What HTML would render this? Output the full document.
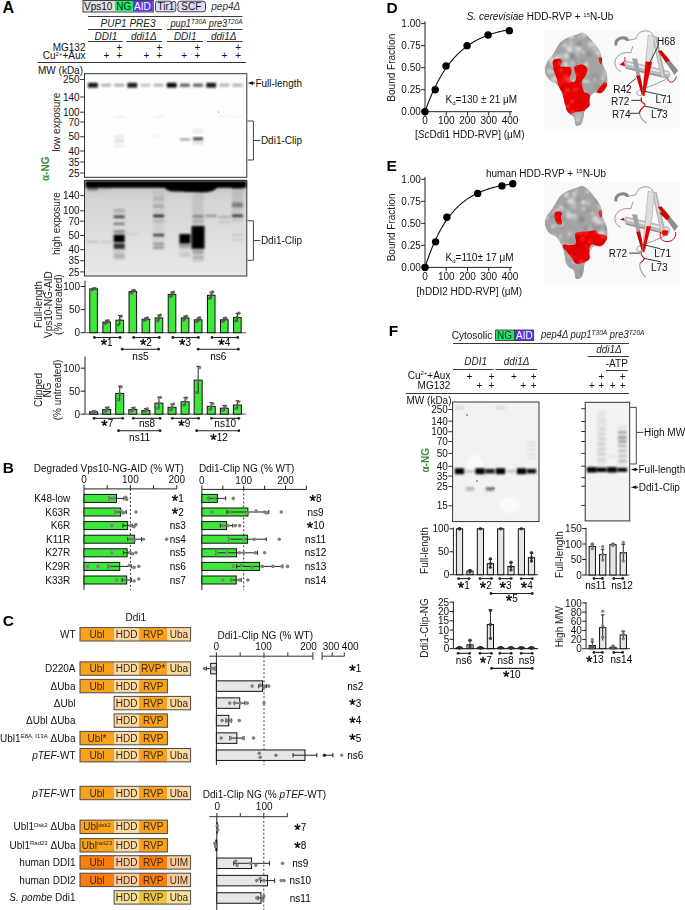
<!DOCTYPE html>
<html><head><meta charset="utf-8"><style>
html,body{margin:0;padding:0;background:#fff;}
svg{display:block;}
text{font-family:"Liberation Sans", sans-serif;}
</style></head><body>
<svg width="685" height="910" viewBox="0 0 685 910" font-family='"Liberation Sans", sans-serif' font-size="10">
<defs>
<filter id="b1" x="-20%" y="-50%" width="140%" height="200%"><feGaussianBlur stdDeviation="0.55"/></filter>
<filter id="b3" x="-20%" y="-50%" width="140%" height="200%"><feGaussianBlur stdDeviation="0.8"/></filter>
<filter id="b2" x="-20%" y="-50%" width="140%" height="200%"><feGaussianBlur stdDeviation="1.2"/></filter>
<linearGradient id="gHigh" x1="0" y1="0" x2="0" y2="1">
<stop offset="0" stop-color="#c2c2c2"/><stop offset="0.2" stop-color="#d4d4d4"/><stop offset="0.6" stop-color="#dedede"/><stop offset="1" stop-color="#e8e8e8"/></linearGradient>
</defs>
<text x="2.5" y="12.6" font-size="16" font-weight="bold">A</text>
<rect x="83" y="0.5" width="70.3" height="11.5" fill="#e2e2e2" stroke="#444" stroke-width="1"/>
<rect x="115" y="1" width="18" height="10.5" fill="#22e86c"/>
<rect x="133" y="1" width="19.8" height="10.5" fill="#5a38e8"/>
<text x="84" y="9.6" fill="#111">Vps10</text>
<text x="116.2" y="9.6" fill="#0b2a12">NG</text>
<text x="134" y="9.6" fill="#fff">AID</text>
<path d="M157.5,1.2 H170 q1.5,0 1.8,1.5 q0.6,-1.3 2.2,-1.3 q1.8,0 1.8,2 V9.8 q0,2 -2,2 H157.5 q-2,0 -2,-2 V3.2 q0,-2 2,-2 Z" fill="#dcdcf7" stroke="#333" stroke-width="0.9"/>
<text x="157.5" y="10" fill="#111">Tir1</text>
<path d="M180.5,1.2 H203 q2.5,0 2.5,2.5 V9.3 q0,2.5 -2.5,2.5 H180.5 q-2.8,0 -2.8,-2.5 q0,-1.3 0.9,-2 q-0.9,-0.7 -0.9,-2 V3.7 q0,-2.5 2.8,-2.5 Z" fill="#dcdcf7" stroke="#333" stroke-width="0.9"/>
<text x="181.3" y="10" fill="#111">SCF</text>
<text x="211.3" y="9.6" fill="#333" font-style="italic">pep4&#916;</text>
<line x1="88" y1="16.5" x2="242.5" y2="16.5" stroke="#3a3a3a" stroke-width="1"/>
<line x1="88" y1="29.5" x2="162" y2="29.5" stroke="#3a3a3a" stroke-width="1"/>
<line x1="167" y1="29.5" x2="242.5" y2="29.5" stroke="#3a3a3a" stroke-width="1"/>
<line x1="88" y1="41.5" x2="122.7" y2="41.5" stroke="#3a3a3a" stroke-width="1"/>
<line x1="126.4" y1="41.5" x2="162" y2="41.5" stroke="#3a3a3a" stroke-width="1"/>
<line x1="167" y1="41.5" x2="203" y2="41.5" stroke="#3a3a3a" stroke-width="1"/>
<line x1="207" y1="41.5" x2="242.5" y2="41.5" stroke="#3a3a3a" stroke-width="1"/>
<line x1="37.6" y1="62.5" x2="246" y2="62.5" stroke="#333" stroke-width="1"/>
<text x="128" y="27.3" text-anchor="middle" fill="#222" font-style="italic">PUP1 PRE3</text>
<text x="170.5" y="27.3" font-style="italic" fill="#222" textLength="72" lengthAdjust="spacingAndGlyphs">pup1<tspan font-size="7" dy="-3.3">T30A</tspan><tspan dy="3.3"> pre3</tspan><tspan font-size="7" dy="-3.3">T20A</tspan></text>
<text x="106" y="39.6" text-anchor="middle" fill="#222" font-style="italic">DDI1</text>
<text x="143.8" y="39.6" text-anchor="middle" fill="#222" font-style="italic">ddi1&#916;</text>
<text x="185.3" y="39.6" text-anchor="middle" fill="#222" font-style="italic">DDI1</text>
<text x="223.7" y="39.6" text-anchor="middle" fill="#222" font-style="italic">ddi1&#916;</text>
<text x="85.5" y="51" text-anchor="end" fill="#111">MG132</text>
<text x="85.5" y="59.2" text-anchor="end" fill="#111">Cu<tspan font-size="6" dy="-3.6">2+</tspan><tspan dy="3.6">+Aux</tspan></text>
<text x="119.5" y="50.5" text-anchor="middle" fill="#111">+</text>
<text x="159.5" y="50.5" text-anchor="middle" fill="#111">+</text>
<text x="197.5" y="50.5" text-anchor="middle" fill="#111">+</text>
<text x="238.1" y="50.5" text-anchor="middle" fill="#111">+</text>
<text x="106.5" y="59.2" text-anchor="middle" fill="#111">+</text>
<text x="119.5" y="59.2" text-anchor="middle" fill="#111">+</text>
<text x="146.3" y="59.2" text-anchor="middle" fill="#111">+</text>
<text x="159.5" y="59.2" text-anchor="middle" fill="#111">+</text>
<text x="184.2" y="59.2" text-anchor="middle" fill="#111">+</text>
<text x="197.5" y="59.2" text-anchor="middle" fill="#111">+</text>
<text x="224.5" y="59.2" text-anchor="middle" fill="#111">+</text>
<text x="238.1" y="59.2" text-anchor="middle" fill="#111">+</text>
<text x="38" y="74.3" fill="#111">MW (kDa)</text>
<rect x="84.5" y="73.7" width="162.3" height="103.6" fill="#fdfdfd" stroke="#333" stroke-width="1"/>
<rect x="88" y="82.8" width="9.8" height="4.8" fill="#000" opacity="0.92" filter="url(#b3)"/>
<rect x="101.14" y="83.8" width="9.8" height="2.8" fill="#000" opacity="0.3" filter="url(#b3)"/>
<rect x="114.28" y="83.8" width="9.8" height="2.8" fill="#000" opacity="0.33" filter="url(#b3)"/>
<rect x="127.42" y="82.8" width="9.8" height="4.8" fill="#000" opacity="0.9" filter="url(#b3)"/>
<rect x="140.56" y="83.8" width="9.8" height="2.8" fill="#000" opacity="0.25" filter="url(#b3)"/>
<rect x="153.7" y="83.8" width="9.8" height="2.8" fill="#000" opacity="0.3" filter="url(#b3)"/>
<rect x="166.84" y="82.8" width="9.8" height="4.8" fill="#000" opacity="0.98" filter="url(#b3)"/>
<rect x="179.98" y="83.5" width="9.8" height="3.4" fill="#000" opacity="0.6" filter="url(#b3)"/>
<rect x="193.12" y="83.5" width="9.8" height="3.4" fill="#000" opacity="0.6" filter="url(#b3)"/>
<rect x="206.26" y="82.8" width="9.8" height="4.8" fill="#000" opacity="0.9" filter="url(#b3)"/>
<rect x="219.4" y="83.7" width="9.8" height="3" fill="#000" opacity="0.3" filter="url(#b3)"/>
<rect x="232.54" y="83.7" width="9.8" height="3" fill="#000" opacity="0.3" filter="url(#b3)"/>
<rect x="114.18" y="116.35" width="10" height="1.5" fill="#000" opacity="0.07" filter="url(#b3)"/>
<rect x="114.18" y="135.25" width="10" height="2.5" fill="#000" opacity="0.09" filter="url(#b3)"/>
<rect x="114.18" y="139" width="10" height="1.6" fill="#000" opacity="0.14" filter="url(#b3)"/>
<rect x="114.18" y="141.5" width="10" height="1.4" fill="#000" opacity="0.16" filter="url(#b3)"/>
<rect x="114.18" y="144.95" width="10" height="1.5" fill="#000" opacity="0.12" filter="url(#b3)"/>
<rect x="179.88" y="138.4" width="10" height="2.2" fill="#000" opacity="0.35" filter="url(#b3)"/>
<rect x="193.02" y="128.5" width="10" height="5" fill="#000" opacity="0.06" filter="url(#b3)"/>
<rect x="193.02" y="137.4" width="10" height="2.8" fill="#000" opacity="0.75" filter="url(#b3)"/>
<rect x="193.02" y="141.5" width="10" height="3" fill="#000" opacity="0.12" filter="url(#b3)"/>
<rect x="153.6" y="116.25" width="10" height="1.5" fill="#000" opacity="0.08" filter="url(#b3)"/>
<rect x="153.6" y="135.05" width="10" height="1.5" fill="#000" opacity="0.06" filter="url(#b3)"/>
<rect x="232.44" y="115.75" width="10" height="1.5" fill="#000" opacity="0.07" filter="url(#b3)"/>
<rect x="219.3" y="115.75" width="10" height="1.5" fill="#000" opacity="0.04" filter="url(#b3)"/>
<circle cx="218.5" cy="112" r="0.6" fill="#666"/>
<text x="79.6" y="83.1" text-anchor="end" fill="#111">250</text>
<line x1="80.2" y1="79.5" x2="84.5" y2="79.5" stroke="#333" stroke-width="1"/>
<text x="79.6" y="100.6" text-anchor="end" fill="#111">140</text>
<line x1="80.2" y1="97" x2="84.5" y2="97" stroke="#333" stroke-width="1"/>
<text x="79.6" y="115.8" text-anchor="end" fill="#111">100</text>
<line x1="80.2" y1="112.2" x2="84.5" y2="112.2" stroke="#333" stroke-width="1"/>
<text x="79.6" y="125.6" text-anchor="end" fill="#111">70</text>
<line x1="80.2" y1="122" x2="84.5" y2="122" stroke="#333" stroke-width="1"/>
<text x="79.6" y="140.4" text-anchor="end" fill="#111">50</text>
<line x1="80.2" y1="136.8" x2="84.5" y2="136.8" stroke="#333" stroke-width="1"/>
<text x="79.6" y="154.6" text-anchor="end" fill="#111">40</text>
<line x1="80.2" y1="151" x2="84.5" y2="151" stroke="#333" stroke-width="1"/>
<text x="79.6" y="165.6" text-anchor="end" fill="#111">35</text>
<line x1="80.2" y1="162" x2="84.5" y2="162" stroke="#333" stroke-width="1"/>
<text x="79.6" y="176.6" text-anchor="end" fill="#111">25</text>
<line x1="80.2" y1="173" x2="84.5" y2="173" stroke="#333" stroke-width="1"/>
<text x="60" y="122.2" text-anchor="middle" fill="#222" transform="rotate(-90 60 122.2)">low exposure</text>
<text x="49" y="168.8" text-anchor="middle" fill="#3a8c3a" font-weight="bold" transform="rotate(-90 49 168.8)">&#945;-NG</text>
<path d="M247.6,83.1 L253.2,81.3 L253.2,84.9 Z" fill="#111"/>
<line x1="252" y1="83.1" x2="255" y2="83.1" stroke="#111" stroke-width="1"/>
<text x="255.4" y="86.7" fill="#111">Full-length</text>
<path d="M247.5,121 H253.4 V160 H247.5" fill="none" stroke="#444" stroke-width="1"/>
<line x1="253.4" y1="140.5" x2="260.4" y2="140.5" stroke="#444" stroke-width="1"/>
<text x="260.9" y="144" fill="#111">Ddi1-Clip</text>
<rect x="84.5" y="180.4" width="162.3" height="95.6" fill="url(#gHigh)" stroke="#333" stroke-width="1"/>
<g filter="url(#b3)">
<rect x="85.5" y="181" width="160.8" height="6.8" fill="#000"/>
<path d="M163,186 C166,190 170,192 176,191.5 C182,191 186,192.5 192,192 C198,191.5 202,193 208,192 C213,191 216,190 218,186 Z" fill="#000"/>
<rect x="231.94" y="186" width="11" height="2.5" fill="#000"/>
<rect x="87.9" y="187" width="10" height="3" fill="#000" opacity="0.25"/>
<rect x="113.68" y="250" width="11" height="10" fill="#000" opacity="0.1"/>
<rect x="153.1" y="190" width="11" height="60" fill="#000" opacity="0.05"/>
<rect x="192.52" y="190" width="11" height="36" fill="#000" opacity="0.08"/>
<rect x="192.52" y="249" width="11" height="13" fill="#000" opacity="0.1"/>
<rect x="231.94" y="190" width="11" height="32" fill="#000" opacity="0.08"/>
<rect x="179.38" y="244" width="11" height="14" fill="#000" opacity="0.05"/>
<rect x="113.68" y="208.7" width="11" height="4" fill="#000" opacity="0.18"/>
<rect x="113.68" y="215.5" width="11" height="2.6" fill="#000" opacity="0.7"/>
<rect x="113.68" y="222.6" width="11" height="2.4" fill="#000" opacity="0.45"/>
<rect x="113.68" y="230.4" width="11" height="1.6" fill="#000" opacity="0.5"/>
<rect x="113.68" y="232.4" width="11" height="2" fill="#000" opacity="0.25"/>
<rect x="113.68" y="234.9" width="11" height="7.4" fill="#000" opacity="1"/>
<rect x="113.68" y="243.8" width="11" height="2" fill="#000" opacity="1"/>
<rect x="113.68" y="246.2" width="11" height="2.6" fill="#000" opacity="0.85"/>
<rect x="113.68" y="254" width="11" height="4" fill="#000" opacity="0.13"/>
<rect x="153.1" y="196.8" width="11" height="4" fill="#000" opacity="0.1"/>
<rect x="153.1" y="204.7" width="11" height="3" fill="#000" opacity="0.18"/>
<rect x="153.1" y="214.7" width="11" height="2.4" fill="#000" opacity="0.85"/>
<rect x="153.1" y="219.5" width="11" height="3" fill="#000" opacity="0.12"/>
<rect x="153.1" y="233.85" width="11" height="2.5" fill="#000" opacity="0.7"/>
<rect x="153.1" y="242.8" width="11" height="2" fill="#000" opacity="0.35"/>
<rect x="153.1" y="246.25" width="11" height="2.5" fill="#000" opacity="0.3"/>
<rect x="192.52" y="215.25" width="11" height="2.5" fill="#000" opacity="0.35"/>
<rect x="192.52" y="220" width="11" height="3" fill="#000" opacity="0.15"/>
<rect x="191.52" y="226" width="13" height="22.8" fill="#000" opacity="1"/>
<rect x="192.52" y="250.5" width="11" height="3" fill="#000" opacity="0.25"/>
<rect x="192.52" y="256.5" width="11" height="2" fill="#000" opacity="0.2"/>
<rect x="179.38" y="234" width="11" height="9.6" fill="#000" opacity="1"/>
<rect x="179.38" y="244.5" width="11" height="3" fill="#000" opacity="0.3"/>
<rect x="179.38" y="253.5" width="11" height="3" fill="#000" opacity="0.08"/>
<rect x="231.94" y="202.5" width="11" height="5" fill="#000" opacity="0.35"/>
<rect x="231.94" y="214.7" width="11" height="2.2" fill="#000" opacity="0.8"/>
<rect x="205.66" y="215" width="11" height="2" fill="#000" opacity="0.2"/>
<rect x="218.8" y="216" width="11" height="2" fill="#000" opacity="0.2"/>
<rect x="231.94" y="234" width="11" height="2" fill="#000" opacity="0.1"/>
<rect x="231.94" y="239.25" width="11" height="1.5" fill="#000" opacity="0.1"/>
<rect x="87.4" y="241.25" width="11" height="1.1" fill="#000" opacity="0.25"/>
<rect x="100.54" y="241.25" width="11" height="1.1" fill="#000" opacity="0.2"/>
<rect x="126.82" y="233.35" width="11" height="1.3" fill="#000" opacity="0.1"/>
<rect x="205.66" y="214.25" width="11" height="2.5" fill="#000" opacity="0.15"/>
<rect x="218.8" y="221" width="11" height="2" fill="#000" opacity="0.1"/>
<rect x="87.4" y="187" width="11" height="4" fill="#000" opacity="0.22"/>
<rect x="100.54" y="187.5" width="11" height="3" fill="#000" opacity="0.12"/>
</g>
<text x="79.6" y="199.2" text-anchor="end" fill="#111">140</text>
<line x1="80.2" y1="195.6" x2="84.5" y2="195.6" stroke="#333" stroke-width="1"/>
<text x="79.6" y="214.4" text-anchor="end" fill="#111">100</text>
<line x1="80.2" y1="210.8" x2="84.5" y2="210.8" stroke="#333" stroke-width="1"/>
<text x="79.6" y="224.8" text-anchor="end" fill="#111">70</text>
<line x1="80.2" y1="221.2" x2="84.5" y2="221.2" stroke="#333" stroke-width="1"/>
<text x="79.6" y="239.1" text-anchor="end" fill="#111">50</text>
<line x1="80.2" y1="235.5" x2="84.5" y2="235.5" stroke="#333" stroke-width="1"/>
<text x="79.6" y="253.3" text-anchor="end" fill="#111">40</text>
<line x1="80.2" y1="249.7" x2="84.5" y2="249.7" stroke="#333" stroke-width="1"/>
<text x="79.6" y="264.3" text-anchor="end" fill="#111">35</text>
<line x1="80.2" y1="260.7" x2="84.5" y2="260.7" stroke="#333" stroke-width="1"/>
<text x="79.6" y="275.5" text-anchor="end" fill="#111">25</text>
<line x1="80.2" y1="271.9" x2="84.5" y2="271.9" stroke="#333" stroke-width="1"/>
<text x="60" y="223.6" text-anchor="middle" fill="#222" transform="rotate(-90 60 223.6)">high exposure</text>
<path d="M247.5,220.8 H253.4 V260.3 H247.5" fill="none" stroke="#444" stroke-width="1"/>
<line x1="253.4" y1="240.55" x2="260.4" y2="240.55" stroke="#444" stroke-width="1"/>
<text x="260.9" y="243.7" fill="#111">Ddi1-Clip</text>
<line x1="85" y1="280.7" x2="85" y2="332.7" stroke="#222" stroke-width="1"/>
<line x1="85" y1="332.7" x2="246" y2="332.7" stroke="#777" stroke-width="1.2"/>
<line x1="80.6" y1="332.7" x2="85" y2="332.7" stroke="#222" stroke-width="1"/>
<text x="80" y="336.3" text-anchor="end" fill="#111">0</text>
<line x1="80.6" y1="309.6" x2="85" y2="309.6" stroke="#222" stroke-width="1"/>
<text x="80" y="313.2" text-anchor="end" fill="#111">50</text>
<line x1="80.6" y1="286.5" x2="85" y2="286.5" stroke="#222" stroke-width="1"/>
<text x="80" y="290.1" text-anchor="end" fill="#111">100</text>
<rect x="89.8" y="288.9" width="7.6" height="43.8" fill="#3ee83a" stroke="#111" stroke-width="1"/>
<rect x="102.87" y="322.07" width="7.6" height="10.63" fill="#3ee83a" stroke="#111" stroke-width="1"/>
<rect x="115.94" y="320.23" width="7.6" height="12.47" fill="#3ee83a" stroke="#111" stroke-width="1"/>
<rect x="129.01" y="291.58" width="7.6" height="41.12" fill="#3ee83a" stroke="#111" stroke-width="1"/>
<rect x="142.08" y="319.3" width="7.6" height="13.4" fill="#3ee83a" stroke="#111" stroke-width="1"/>
<rect x="155.15" y="317.92" width="7.6" height="14.78" fill="#3ee83a" stroke="#111" stroke-width="1"/>
<rect x="168.22" y="294.35" width="7.6" height="38.35" fill="#3ee83a" stroke="#111" stroke-width="1"/>
<rect x="181.29" y="317.92" width="7.6" height="14.78" fill="#3ee83a" stroke="#111" stroke-width="1"/>
<rect x="194.36" y="319.76" width="7.6" height="12.94" fill="#3ee83a" stroke="#111" stroke-width="1"/>
<rect x="207.43" y="295.28" width="7.6" height="37.42" fill="#3ee83a" stroke="#111" stroke-width="1"/>
<rect x="220.5" y="319.76" width="7.6" height="12.94" fill="#3ee83a" stroke="#111" stroke-width="1"/>
<rect x="233.57" y="317.45" width="7.6" height="15.25" fill="#3ee83a" stroke="#111" stroke-width="1"/>
<line x1="93.6" y1="288.21" x2="93.6" y2="289.6" stroke="#222" stroke-width="1"/>
<line x1="91.8" y1="288.21" x2="95.4" y2="288.21" stroke="#222" stroke-width="1"/>
<circle cx="92.1" cy="289.77" r="1.7" fill="#555" opacity="0.85"/>
<circle cx="93.6" cy="288.86" r="1.7" fill="#555" opacity="0.85"/>
<circle cx="95.1" cy="288.4" r="1.7" fill="#555" opacity="0.85"/>
<line x1="106.67" y1="320.23" x2="106.67" y2="323.92" stroke="#222" stroke-width="1"/>
<line x1="104.87" y1="320.23" x2="108.47" y2="320.23" stroke="#222" stroke-width="1"/>
<circle cx="105.17" cy="323.64" r="1.7" fill="#555" opacity="0.85"/>
<circle cx="106.67" cy="321.96" r="1.7" fill="#555" opacity="0.85"/>
<circle cx="108.17" cy="320.81" r="1.7" fill="#555" opacity="0.85"/>
<line x1="119.74" y1="315.61" x2="119.74" y2="324.85" stroke="#222" stroke-width="1"/>
<line x1="117.94" y1="315.61" x2="121.54" y2="315.61" stroke="#222" stroke-width="1"/>
<circle cx="118.24" cy="324.83" r="1.7" fill="#555" opacity="0.85"/>
<circle cx="119.74" cy="319.91" r="1.7" fill="#555" opacity="0.85"/>
<circle cx="121.24" cy="316.29" r="1.7" fill="#555" opacity="0.85"/>
<line x1="132.81" y1="290.2" x2="132.81" y2="292.97" stroke="#222" stroke-width="1"/>
<line x1="131.01" y1="290.2" x2="134.61" y2="290.2" stroke="#222" stroke-width="1"/>
<circle cx="131.31" cy="293.07" r="1.7" fill="#555" opacity="0.85"/>
<circle cx="132.81" cy="291.12" r="1.7" fill="#555" opacity="0.85"/>
<circle cx="134.31" cy="290.36" r="1.7" fill="#555" opacity="0.85"/>
<line x1="145.88" y1="317.92" x2="145.88" y2="320.69" stroke="#222" stroke-width="1"/>
<line x1="144.08" y1="317.92" x2="147.68" y2="317.92" stroke="#222" stroke-width="1"/>
<circle cx="144.38" cy="320.24" r="1.7" fill="#555" opacity="0.85"/>
<circle cx="145.88" cy="319.32" r="1.7" fill="#555" opacity="0.85"/>
<circle cx="147.38" cy="317.93" r="1.7" fill="#555" opacity="0.85"/>
<line x1="158.95" y1="315.14" x2="158.95" y2="320.69" stroke="#222" stroke-width="1"/>
<line x1="157.15" y1="315.14" x2="160.75" y2="315.14" stroke="#222" stroke-width="1"/>
<circle cx="157.45" cy="320.73" r="1.7" fill="#555" opacity="0.85"/>
<circle cx="158.95" cy="317.79" r="1.7" fill="#555" opacity="0.85"/>
<circle cx="160.45" cy="315.08" r="1.7" fill="#555" opacity="0.85"/>
<line x1="172.02" y1="292.04" x2="172.02" y2="296.66" stroke="#222" stroke-width="1"/>
<line x1="170.22" y1="292.04" x2="173.82" y2="292.04" stroke="#222" stroke-width="1"/>
<circle cx="170.52" cy="296.41" r="1.7" fill="#555" opacity="0.85"/>
<circle cx="172.02" cy="294.13" r="1.7" fill="#555" opacity="0.85"/>
<circle cx="173.52" cy="292.12" r="1.7" fill="#555" opacity="0.85"/>
<line x1="185.09" y1="316.07" x2="185.09" y2="319.76" stroke="#222" stroke-width="1"/>
<line x1="183.29" y1="316.07" x2="186.89" y2="316.07" stroke="#222" stroke-width="1"/>
<circle cx="183.59" cy="319.98" r="1.7" fill="#555" opacity="0.85"/>
<circle cx="185.09" cy="317.68" r="1.7" fill="#555" opacity="0.85"/>
<circle cx="186.59" cy="316.17" r="1.7" fill="#555" opacity="0.85"/>
<line x1="198.16" y1="317.92" x2="198.16" y2="321.61" stroke="#222" stroke-width="1"/>
<line x1="196.36" y1="317.92" x2="199.96" y2="317.92" stroke="#222" stroke-width="1"/>
<circle cx="196.66" cy="321.61" r="1.7" fill="#555" opacity="0.85"/>
<circle cx="198.16" cy="320.2" r="1.7" fill="#555" opacity="0.85"/>
<circle cx="199.66" cy="317.76" r="1.7" fill="#555" opacity="0.85"/>
<line x1="211.23" y1="292.04" x2="211.23" y2="298.51" stroke="#222" stroke-width="1"/>
<line x1="209.43" y1="292.04" x2="213.03" y2="292.04" stroke="#222" stroke-width="1"/>
<circle cx="209.73" cy="298.21" r="1.7" fill="#555" opacity="0.85"/>
<circle cx="211.23" cy="295.08" r="1.7" fill="#555" opacity="0.85"/>
<circle cx="212.73" cy="292.02" r="1.7" fill="#555" opacity="0.85"/>
<line x1="224.3" y1="317.92" x2="224.3" y2="321.61" stroke="#222" stroke-width="1"/>
<line x1="222.5" y1="317.92" x2="226.1" y2="317.92" stroke="#222" stroke-width="1"/>
<circle cx="222.8" cy="321.23" r="1.7" fill="#555" opacity="0.85"/>
<circle cx="224.3" cy="319.37" r="1.7" fill="#555" opacity="0.85"/>
<circle cx="225.8" cy="318.2" r="1.7" fill="#555" opacity="0.85"/>
<line x1="237.37" y1="313.3" x2="237.37" y2="321.61" stroke="#222" stroke-width="1"/>
<line x1="235.57" y1="313.3" x2="239.17" y2="313.3" stroke="#222" stroke-width="1"/>
<circle cx="235.87" cy="320.92" r="1.7" fill="#555" opacity="0.85"/>
<circle cx="237.37" cy="317.51" r="1.7" fill="#555" opacity="0.85"/>
<circle cx="238.87" cy="313.31" r="1.7" fill="#555" opacity="0.85"/>
<text x="42" y="304.6" text-anchor="middle" fill="#222" transform="rotate(-90 42 304.6)">Full-length</text>
<text x="51.8" y="304.6" text-anchor="middle" fill="#222" transform="rotate(-90 51.8 304.6)">Vps10-NG-AID</text>
<text x="62.4" y="304.6" text-anchor="middle" fill="#222" transform="rotate(-90 62.4 304.6)">(% untreated)</text>
<line x1="94.4" y1="337.5" x2="120.04" y2="337.5" stroke="#222" stroke-width="1.1"/>
<circle cx="94.4" cy="337.5" r="1.4" fill="#222"/>
<circle cx="120.04" cy="337.5" r="1.4" fill="#222"/>
<text x="106.67" y="346.18" text-anchor="middle"><tspan font-size="16.5" dy="4.7" stroke="#000" stroke-width="0.35">*</tspan><tspan dy="-4.7">1</tspan></text>
<line x1="133.61" y1="337.5" x2="159.25" y2="337.5" stroke="#222" stroke-width="1.1"/>
<circle cx="133.61" cy="337.5" r="1.4" fill="#222"/>
<circle cx="159.25" cy="337.5" r="1.4" fill="#222"/>
<text x="145.88" y="346.18" text-anchor="middle"><tspan font-size="16.5" dy="4.7" stroke="#000" stroke-width="0.35">*</tspan><tspan dy="-4.7">2</tspan></text>
<line x1="172.82" y1="337.5" x2="198.46" y2="337.5" stroke="#222" stroke-width="1.1"/>
<circle cx="172.82" cy="337.5" r="1.4" fill="#222"/>
<circle cx="198.46" cy="337.5" r="1.4" fill="#222"/>
<text x="185.09" y="346.18" text-anchor="middle"><tspan font-size="16.5" dy="4.7" stroke="#000" stroke-width="0.35">*</tspan><tspan dy="-4.7">3</tspan></text>
<line x1="212.03" y1="337.5" x2="237.67" y2="337.5" stroke="#222" stroke-width="1.1"/>
<circle cx="212.03" cy="337.5" r="1.4" fill="#222"/>
<circle cx="237.67" cy="337.5" r="1.4" fill="#222"/>
<text x="224.3" y="346.18" text-anchor="middle"><tspan font-size="16.5" dy="4.7" stroke="#000" stroke-width="0.35">*</tspan><tspan dy="-4.7">4</tspan></text>
<line x1="122.2" y1="349.2" x2="158.6" y2="349.2" stroke="#222" stroke-width="1.1"/>
<circle cx="122.2" cy="349.2" r="1.4" fill="#222"/>
<circle cx="158.6" cy="349.2" r="1.4" fill="#222"/>
<text x="140.4" y="359.98" text-anchor="middle">ns5</text>
<line x1="198.2" y1="349.2" x2="238.3" y2="349.2" stroke="#222" stroke-width="1.1"/>
<circle cx="198.2" cy="349.2" r="1.4" fill="#222"/>
<circle cx="238.3" cy="349.2" r="1.4" fill="#222"/>
<text x="218.2" y="359.98" text-anchor="middle">ns6</text>
<line x1="85" y1="356.4" x2="85" y2="414.2" stroke="#222" stroke-width="1"/>
<line x1="85" y1="414.2" x2="246" y2="414.2" stroke="#777" stroke-width="1.2"/>
<line x1="80.6" y1="414.2" x2="85" y2="414.2" stroke="#222" stroke-width="1"/>
<text x="80" y="417.8" text-anchor="end" fill="#111">0</text>
<line x1="80.6" y1="391.2" x2="85" y2="391.2" stroke="#222" stroke-width="1"/>
<text x="80" y="394.8" text-anchor="end" fill="#111">50</text>
<line x1="80.6" y1="368.2" x2="85" y2="368.2" stroke="#222" stroke-width="1"/>
<text x="80" y="371.8" text-anchor="end" fill="#111">100</text>
<rect x="89.6" y="411.9" width="8" height="2.3" fill="#3ee83a" stroke="#111" stroke-width="1"/>
<rect x="102.67" y="409.6" width="8" height="4.6" fill="#3ee83a" stroke="#111" stroke-width="1"/>
<rect x="115.74" y="393.5" width="8" height="20.7" fill="#3ee83a" stroke="#111" stroke-width="1"/>
<rect x="128.81" y="409.6" width="8" height="4.6" fill="#3ee83a" stroke="#111" stroke-width="1"/>
<rect x="141.88" y="410.52" width="8" height="3.68" fill="#3ee83a" stroke="#111" stroke-width="1"/>
<rect x="154.95" y="403.16" width="8" height="11.04" fill="#3ee83a" stroke="#111" stroke-width="1"/>
<rect x="168.02" y="407.3" width="8" height="6.9" fill="#3ee83a" stroke="#111" stroke-width="1"/>
<rect x="181.09" y="401.78" width="8" height="12.42" fill="#3ee83a" stroke="#111" stroke-width="1"/>
<rect x="194.16" y="380.16" width="8" height="34.04" fill="#3ee83a" stroke="#111" stroke-width="1"/>
<rect x="207.23" y="406.38" width="8" height="7.82" fill="#3ee83a" stroke="#111" stroke-width="1"/>
<rect x="220.3" y="408.22" width="8" height="5.98" fill="#3ee83a" stroke="#111" stroke-width="1"/>
<rect x="233.37" y="405" width="8" height="9.2" fill="#3ee83a" stroke="#111" stroke-width="1"/>
<line x1="93.6" y1="410.98" x2="93.6" y2="412.82" stroke="#222" stroke-width="1"/>
<line x1="91.8" y1="410.98" x2="95.4" y2="410.98" stroke="#222" stroke-width="1"/>
<circle cx="92.1" cy="412.38" r="1.7" fill="#666" opacity="0.85"/>
<circle cx="93.6" cy="412.27" r="1.7" fill="#666" opacity="0.85"/>
<circle cx="95.1" cy="411.41" r="1.7" fill="#666" opacity="0.85"/>
<line x1="106.67" y1="407.3" x2="106.67" y2="411.9" stroke="#222" stroke-width="1"/>
<line x1="104.87" y1="407.3" x2="108.47" y2="407.3" stroke="#222" stroke-width="1"/>
<circle cx="105.17" cy="411.93" r="1.7" fill="#666" opacity="0.85"/>
<circle cx="106.67" cy="409.17" r="1.7" fill="#666" opacity="0.85"/>
<circle cx="108.17" cy="407.59" r="1.7" fill="#666" opacity="0.85"/>
<line x1="119.74" y1="386.14" x2="119.74" y2="400.86" stroke="#222" stroke-width="1"/>
<line x1="117.94" y1="386.14" x2="121.54" y2="386.14" stroke="#222" stroke-width="1"/>
<circle cx="118.24" cy="400.01" r="1.7" fill="#666" opacity="0.85"/>
<circle cx="119.74" cy="393.68" r="1.7" fill="#666" opacity="0.85"/>
<circle cx="121.24" cy="386.87" r="1.7" fill="#666" opacity="0.85"/>
<line x1="132.81" y1="407.76" x2="132.81" y2="411.44" stroke="#222" stroke-width="1"/>
<line x1="131.01" y1="407.76" x2="134.61" y2="407.76" stroke="#222" stroke-width="1"/>
<circle cx="131.31" cy="411.36" r="1.7" fill="#666" opacity="0.85"/>
<circle cx="132.81" cy="409.74" r="1.7" fill="#666" opacity="0.85"/>
<circle cx="134.31" cy="407.87" r="1.7" fill="#666" opacity="0.85"/>
<line x1="145.88" y1="408.68" x2="145.88" y2="412.36" stroke="#222" stroke-width="1"/>
<line x1="144.08" y1="408.68" x2="147.68" y2="408.68" stroke="#222" stroke-width="1"/>
<circle cx="144.38" cy="412.1" r="1.7" fill="#666" opacity="0.85"/>
<circle cx="145.88" cy="410.15" r="1.7" fill="#666" opacity="0.85"/>
<circle cx="147.38" cy="408.7" r="1.7" fill="#666" opacity="0.85"/>
<line x1="158.95" y1="397.18" x2="158.95" y2="409.14" stroke="#222" stroke-width="1"/>
<line x1="157.15" y1="397.18" x2="160.75" y2="397.18" stroke="#222" stroke-width="1"/>
<circle cx="157.45" cy="408.15" r="1.7" fill="#666" opacity="0.85"/>
<circle cx="158.95" cy="402.83" r="1.7" fill="#666" opacity="0.85"/>
<circle cx="160.45" cy="397.33" r="1.7" fill="#666" opacity="0.85"/>
<line x1="172.02" y1="404.08" x2="172.02" y2="410.52" stroke="#222" stroke-width="1"/>
<line x1="170.22" y1="404.08" x2="173.82" y2="404.08" stroke="#222" stroke-width="1"/>
<circle cx="170.52" cy="410.04" r="1.7" fill="#666" opacity="0.85"/>
<circle cx="172.02" cy="407.61" r="1.7" fill="#666" opacity="0.85"/>
<circle cx="173.52" cy="404.07" r="1.7" fill="#666" opacity="0.85"/>
<line x1="185.09" y1="397.64" x2="185.09" y2="405.92" stroke="#222" stroke-width="1"/>
<line x1="183.29" y1="397.64" x2="186.89" y2="397.64" stroke="#222" stroke-width="1"/>
<circle cx="183.59" cy="405.08" r="1.7" fill="#666" opacity="0.85"/>
<circle cx="185.09" cy="401.41" r="1.7" fill="#666" opacity="0.85"/>
<circle cx="186.59" cy="397.99" r="1.7" fill="#666" opacity="0.85"/>
<line x1="198.16" y1="366.36" x2="198.16" y2="393.96" stroke="#222" stroke-width="1"/>
<line x1="196.36" y1="366.36" x2="199.96" y2="366.36" stroke="#222" stroke-width="1"/>
<circle cx="196.66" cy="392.38" r="1.7" fill="#666" opacity="0.85"/>
<circle cx="198.16" cy="380.43" r="1.7" fill="#666" opacity="0.85"/>
<circle cx="199.66" cy="367.43" r="1.7" fill="#666" opacity="0.85"/>
<line x1="211.23" y1="402.7" x2="211.23" y2="410.06" stroke="#222" stroke-width="1"/>
<line x1="209.43" y1="402.7" x2="213.03" y2="402.7" stroke="#222" stroke-width="1"/>
<circle cx="209.73" cy="409.62" r="1.7" fill="#666" opacity="0.85"/>
<circle cx="211.23" cy="406.58" r="1.7" fill="#666" opacity="0.85"/>
<circle cx="212.73" cy="403.47" r="1.7" fill="#666" opacity="0.85"/>
<line x1="224.3" y1="405.46" x2="224.3" y2="410.98" stroke="#222" stroke-width="1"/>
<line x1="222.5" y1="405.46" x2="226.1" y2="405.46" stroke="#222" stroke-width="1"/>
<circle cx="222.8" cy="410.38" r="1.7" fill="#666" opacity="0.85"/>
<circle cx="224.3" cy="407.77" r="1.7" fill="#666" opacity="0.85"/>
<circle cx="225.8" cy="406.11" r="1.7" fill="#666" opacity="0.85"/>
<line x1="237.37" y1="400.86" x2="237.37" y2="409.14" stroke="#222" stroke-width="1"/>
<line x1="235.57" y1="400.86" x2="239.17" y2="400.86" stroke="#222" stroke-width="1"/>
<circle cx="235.87" cy="408.45" r="1.7" fill="#666" opacity="0.85"/>
<circle cx="237.37" cy="405.08" r="1.7" fill="#666" opacity="0.85"/>
<circle cx="238.87" cy="401.6" r="1.7" fill="#666" opacity="0.85"/>
<text x="41.5" y="390" text-anchor="middle" fill="#222" transform="rotate(-90 41.5 390)">Clipped</text>
<text x="51.3" y="390" text-anchor="middle" fill="#222" transform="rotate(-90 51.3 390)">NG</text>
<text x="61.2" y="390" text-anchor="middle" fill="#222" transform="rotate(-90 61.2 390)">(% untreated)</text>
<line x1="94.1" y1="418.3" x2="122.7" y2="418.3" stroke="#222" stroke-width="1.1"/>
<circle cx="94.1" cy="418.3" r="1.4" fill="#222"/>
<circle cx="122.7" cy="418.3" r="1.4" fill="#222"/>
<text x="107.3" y="427.38" text-anchor="middle"><tspan font-size="16.5" dy="4.7" stroke="#000" stroke-width="0.35">*</tspan><tspan dy="-4.7">7</tspan></text>
<line x1="133.3" y1="418.3" x2="160.1" y2="418.3" stroke="#222" stroke-width="1.1"/>
<circle cx="133.3" cy="418.3" r="1.4" fill="#222"/>
<circle cx="160.1" cy="418.3" r="1.4" fill="#222"/>
<text x="147" y="427.38" text-anchor="middle">ns8</text>
<line x1="172.3" y1="418.3" x2="198.6" y2="418.3" stroke="#222" stroke-width="1.1"/>
<circle cx="172.3" cy="418.3" r="1.4" fill="#222"/>
<circle cx="198.6" cy="418.3" r="1.4" fill="#222"/>
<text x="184.2" y="427.38" text-anchor="middle"><tspan font-size="16.5" dy="4.7" stroke="#000" stroke-width="0.35">*</tspan><tspan dy="-4.7">9</tspan></text>
<line x1="211.5" y1="418.3" x2="238.8" y2="418.3" stroke="#222" stroke-width="1.1"/>
<circle cx="211.5" cy="418.3" r="1.4" fill="#222"/>
<circle cx="238.8" cy="418.3" r="1.4" fill="#222"/>
<text x="225.2" y="427.38" text-anchor="middle">ns10</text>
<line x1="118.5" y1="430.7" x2="160.1" y2="430.7" stroke="#222" stroke-width="1.1"/>
<circle cx="118.5" cy="430.7" r="1.4" fill="#222"/>
<circle cx="160.1" cy="430.7" r="1.4" fill="#222"/>
<text x="139.6" y="440.98" text-anchor="middle">ns11</text>
<line x1="196.6" y1="430.7" x2="238.8" y2="430.7" stroke="#222" stroke-width="1.1"/>
<circle cx="196.6" cy="430.7" r="1.4" fill="#222"/>
<circle cx="238.8" cy="430.7" r="1.4" fill="#222"/>
<text x="219" y="440.98" text-anchor="middle"><tspan font-size="16.5" dy="4.7" stroke="#000" stroke-width="0.35">*</tspan><tspan dy="-4.7">12</tspan></text>
<text x="2.8" y="472.8" font-size="15.5" font-weight="bold">B</text>
<text x="33.8" y="472.3" fill="#111">Degraded Vps10-NG-AID (% WT)</text>
<text x="198.9" y="472.3" fill="#111">Ddi1-Clip NG (% WT)</text>
<text x="70.3" y="502" text-anchor="end" fill="#111">K48-low</text>
<text x="70.3" y="515.6" text-anchor="end" fill="#111">K63R</text>
<text x="70.3" y="529.2" text-anchor="end" fill="#111">K6R</text>
<text x="70.3" y="542.8" text-anchor="end" fill="#111">K11R</text>
<text x="70.3" y="556.4" text-anchor="end" fill="#111">K27R</text>
<text x="70.3" y="570" text-anchor="end" fill="#111">K29R</text>
<text x="70.3" y="583.6" text-anchor="end" fill="#111">K33R</text>
<line x1="84" y1="488.9" x2="176.8" y2="488.9" stroke="#222" stroke-width="1"/>
<line x1="84" y1="485.1" x2="84" y2="488.9" stroke="#222" stroke-width="1"/>
<line x1="107.2" y1="485.1" x2="107.2" y2="488.9" stroke="#222" stroke-width="1"/>
<line x1="130.4" y1="485.1" x2="130.4" y2="488.9" stroke="#222" stroke-width="1"/>
<line x1="153.6" y1="485.1" x2="153.6" y2="488.9" stroke="#222" stroke-width="1"/>
<line x1="176.8" y1="485.1" x2="176.8" y2="488.9" stroke="#222" stroke-width="1"/>
<text x="84" y="483" text-anchor="middle" fill="#111">0</text>
<text x="130.4" y="483" text-anchor="middle" fill="#111">100</text>
<text x="176.8" y="483" text-anchor="middle" fill="#111">200</text>
<line x1="84" y1="488.9" x2="84" y2="590" stroke="#222" stroke-width="1"/>
<line x1="130.4" y1="488.9" x2="130.4" y2="590" stroke="#333" stroke-width="1" stroke-dasharray="2,2"/>
<rect x="84" y="494.4" width="32.48" height="8" fill="#3ee83a" stroke="#111" stroke-width="1"/>
<rect x="84" y="508" width="36.66" height="8" fill="#3ee83a" stroke="#111" stroke-width="1"/>
<rect x="84" y="521.6" width="43.62" height="8" fill="#3ee83a" stroke="#111" stroke-width="1"/>
<rect x="84" y="535.2" width="50.58" height="8" fill="#3ee83a" stroke="#111" stroke-width="1"/>
<rect x="84" y="548.8" width="43.15" height="8" fill="#3ee83a" stroke="#111" stroke-width="1"/>
<rect x="84" y="562.4" width="35.73" height="8" fill="#3ee83a" stroke="#111" stroke-width="1"/>
<rect x="84" y="576" width="42.69" height="8" fill="#3ee83a" stroke="#111" stroke-width="1"/>
<line x1="109.06" y1="498.4" x2="123.9" y2="498.4" stroke="#222" stroke-width="1"/>
<line x1="109.06" y1="496.4" x2="109.06" y2="500.4" stroke="#222" stroke-width="1"/>
<line x1="123.9" y1="496.4" x2="123.9" y2="500.4" stroke="#222" stroke-width="1"/>
<circle cx="109.52" cy="498.4" r="1.8" fill="#808080"/>
<circle cx="114.16" cy="498.4" r="1.8" fill="#808080"/>
<circle cx="125.76" cy="497.4" r="1.8" fill="#808080"/>
<circle cx="126.69" cy="499.4" r="1.8" fill="#808080"/>
<line x1="115.09" y1="512" x2="126.22" y2="512" stroke="#222" stroke-width="1"/>
<line x1="115.09" y1="510" x2="115.09" y2="514" stroke="#222" stroke-width="1"/>
<line x1="126.22" y1="510" x2="126.22" y2="514" stroke="#222" stroke-width="1"/>
<circle cx="115.55" cy="512" r="1.8" fill="#808080"/>
<circle cx="121.12" cy="511" r="1.8" fill="#808080"/>
<circle cx="123.44" cy="513" r="1.8" fill="#808080"/>
<circle cx="135.97" cy="512" r="1.8" fill="#808080"/>
<line x1="122.98" y1="525.6" x2="132.26" y2="525.6" stroke="#222" stroke-width="1"/>
<line x1="122.98" y1="523.6" x2="122.98" y2="527.6" stroke="#222" stroke-width="1"/>
<line x1="132.26" y1="523.6" x2="132.26" y2="527.6" stroke="#222" stroke-width="1"/>
<circle cx="111.84" cy="525.6" r="1.8" fill="#808080"/>
<circle cx="130.4" cy="525.6" r="1.8" fill="#808080"/>
<circle cx="134.11" cy="526.6" r="1.8" fill="#808080"/>
<circle cx="135.97" cy="524.6" r="1.8" fill="#808080"/>
<line x1="127.62" y1="539.2" x2="141.54" y2="539.2" stroke="#222" stroke-width="1"/>
<line x1="127.62" y1="537.2" x2="127.62" y2="541.2" stroke="#222" stroke-width="1"/>
<line x1="141.54" y1="537.2" x2="141.54" y2="541.2" stroke="#222" stroke-width="1"/>
<circle cx="130.4" cy="539.2" r="1.8" fill="#808080"/>
<circle cx="134.11" cy="540.2" r="1.8" fill="#808080"/>
<circle cx="143.39" cy="539.2" r="1.8" fill="#808080"/>
<circle cx="166.59" cy="539.2" r="1.8" fill="#808080"/>
<line x1="123.44" y1="552.8" x2="130.86" y2="552.8" stroke="#222" stroke-width="1"/>
<line x1="123.44" y1="550.8" x2="123.44" y2="554.8" stroke="#222" stroke-width="1"/>
<line x1="130.86" y1="550.8" x2="130.86" y2="554.8" stroke="#222" stroke-width="1"/>
<circle cx="111.84" cy="552.8" r="1.8" fill="#808080"/>
<circle cx="129.47" cy="552.8" r="1.8" fill="#808080"/>
<circle cx="132.72" cy="553.8" r="1.8" fill="#808080"/>
<circle cx="135.97" cy="552.8" r="1.8" fill="#808080"/>
<line x1="108.13" y1="566.4" x2="131.33" y2="566.4" stroke="#222" stroke-width="1"/>
<line x1="108.13" y1="564.4" x2="108.13" y2="568.4" stroke="#222" stroke-width="1"/>
<line x1="131.33" y1="564.4" x2="131.33" y2="568.4" stroke="#222" stroke-width="1"/>
<circle cx="87.71" cy="566.4" r="1.8" fill="#808080"/>
<circle cx="97.92" cy="566.4" r="1.8" fill="#808080"/>
<circle cx="109.52" cy="566.4" r="1.8" fill="#808080"/>
<circle cx="129.47" cy="565.4" r="1.8" fill="#808080"/>
<circle cx="134.11" cy="567.4" r="1.8" fill="#808080"/>
<circle cx="138.75" cy="566.4" r="1.8" fill="#808080"/>
<line x1="122.05" y1="580" x2="131.33" y2="580" stroke="#222" stroke-width="1"/>
<line x1="122.05" y1="578" x2="122.05" y2="582" stroke="#222" stroke-width="1"/>
<line x1="131.33" y1="578" x2="131.33" y2="582" stroke="#222" stroke-width="1"/>
<circle cx="116.48" cy="580" r="1.8" fill="#808080"/>
<circle cx="124.83" cy="580" r="1.8" fill="#808080"/>
<circle cx="134.11" cy="581" r="1.8" fill="#808080"/>
<circle cx="138.75" cy="579" r="1.8" fill="#808080"/>
<text x="177.8" y="501.98" text-anchor="middle"><tspan font-size="16.5" dy="4.7" stroke="#000" stroke-width="0.35">*</tspan><tspan dy="-4.7">1</tspan></text>
<text x="177.8" y="515.58" text-anchor="middle"><tspan font-size="16.5" dy="4.7" stroke="#000" stroke-width="0.35">*</tspan><tspan dy="-4.7">2</tspan></text>
<text x="177.8" y="529.18" text-anchor="middle">ns3</text>
<text x="177.8" y="542.78" text-anchor="middle">ns4</text>
<text x="177.8" y="556.38" text-anchor="middle">ns5</text>
<text x="177.8" y="569.98" text-anchor="middle">ns6</text>
<text x="177.8" y="583.58" text-anchor="middle">ns7</text>
<line x1="201.9" y1="489.4" x2="306.4" y2="489.4" stroke="#222" stroke-width="1"/>
<line x1="201.9" y1="485.6" x2="201.9" y2="489.4" stroke="#222" stroke-width="1"/>
<line x1="222.8" y1="485.6" x2="222.8" y2="489.4" stroke="#222" stroke-width="1"/>
<line x1="243.7" y1="485.6" x2="243.7" y2="489.4" stroke="#222" stroke-width="1"/>
<line x1="264.6" y1="485.6" x2="264.6" y2="489.4" stroke="#222" stroke-width="1"/>
<line x1="285.5" y1="485.6" x2="285.5" y2="489.4" stroke="#222" stroke-width="1"/>
<line x1="306.4" y1="485.6" x2="306.4" y2="489.4" stroke="#222" stroke-width="1"/>
<text x="201.9" y="483.5" text-anchor="middle" fill="#111">0</text>
<text x="243.7" y="483.5" text-anchor="middle" fill="#111">100</text>
<text x="285.5" y="483.5" text-anchor="middle" fill="#111">200</text>
<line x1="201.9" y1="489.4" x2="201.9" y2="590" stroke="#222" stroke-width="1"/>
<line x1="243.7" y1="489.4" x2="243.7" y2="590" stroke="#333" stroke-width="1" stroke-dasharray="2,2"/>
<rect x="201.9" y="494.4" width="15.47" height="8" fill="#3ee83a" stroke="#111" stroke-width="1"/>
<rect x="201.9" y="508" width="45.98" height="8" fill="#3ee83a" stroke="#111" stroke-width="1"/>
<rect x="201.9" y="521.6" width="24.66" height="8" fill="#3ee83a" stroke="#111" stroke-width="1"/>
<rect x="201.9" y="535.2" width="45.56" height="8" fill="#3ee83a" stroke="#111" stroke-width="1"/>
<rect x="201.9" y="548.8" width="34.69" height="8" fill="#3ee83a" stroke="#111" stroke-width="1"/>
<rect x="201.9" y="562.4" width="57.68" height="8" fill="#3ee83a" stroke="#111" stroke-width="1"/>
<rect x="201.9" y="576" width="34.28" height="8" fill="#3ee83a" stroke="#111" stroke-width="1"/>
<line x1="209.01" y1="498.4" x2="225.73" y2="498.4" stroke="#222" stroke-width="1"/>
<line x1="209.01" y1="496.4" x2="209.01" y2="500.4" stroke="#222" stroke-width="1"/>
<line x1="225.73" y1="496.4" x2="225.73" y2="500.4" stroke="#222" stroke-width="1"/>
<circle cx="208.17" cy="498.4" r="1.8" fill="#808080"/>
<circle cx="214.44" cy="498.4" r="1.8" fill="#808080"/>
<circle cx="233.25" cy="498.4" r="1.8" fill="#808080"/>
<line x1="226.98" y1="512" x2="268.78" y2="512" stroke="#222" stroke-width="1"/>
<line x1="226.98" y1="510" x2="226.98" y2="514" stroke="#222" stroke-width="1"/>
<line x1="268.78" y1="510" x2="268.78" y2="514" stroke="#222" stroke-width="1"/>
<circle cx="212.35" cy="512" r="1.8" fill="#808080"/>
<circle cx="231.16" cy="512" r="1.8" fill="#808080"/>
<circle cx="247.88" cy="513" r="1.8" fill="#808080"/>
<circle cx="256.24" cy="511" r="1.8" fill="#808080"/>
<circle cx="264.6" cy="512" r="1.8" fill="#808080"/>
<circle cx="266.69" cy="513" r="1.8" fill="#808080"/>
<circle cx="281.32" cy="512" r="1.8" fill="#808080"/>
<line x1="220.29" y1="525.6" x2="232.83" y2="525.6" stroke="#222" stroke-width="1"/>
<line x1="220.29" y1="523.6" x2="220.29" y2="527.6" stroke="#222" stroke-width="1"/>
<line x1="232.83" y1="523.6" x2="232.83" y2="527.6" stroke="#222" stroke-width="1"/>
<circle cx="222.8" cy="525.6" r="1.8" fill="#808080"/>
<circle cx="227.82" cy="525.6" r="1.8" fill="#808080"/>
<circle cx="235.34" cy="525.6" r="1.8" fill="#808080"/>
<circle cx="239.52" cy="525.6" r="1.8" fill="#808080"/>
<line x1="228.65" y1="539.2" x2="266.27" y2="539.2" stroke="#222" stroke-width="1"/>
<line x1="228.65" y1="537.2" x2="228.65" y2="541.2" stroke="#222" stroke-width="1"/>
<line x1="266.27" y1="537.2" x2="266.27" y2="541.2" stroke="#222" stroke-width="1"/>
<circle cx="229.07" cy="539.2" r="1.8" fill="#808080"/>
<circle cx="243.7" cy="539.2" r="1.8" fill="#808080"/>
<circle cx="254.15" cy="539.2" r="1.8" fill="#808080"/>
<circle cx="279.23" cy="539.2" r="1.8" fill="#808080"/>
<line x1="215.69" y1="552.8" x2="257.49" y2="552.8" stroke="#222" stroke-width="1"/>
<line x1="215.69" y1="550.8" x2="215.69" y2="554.8" stroke="#222" stroke-width="1"/>
<line x1="257.49" y1="550.8" x2="257.49" y2="554.8" stroke="#222" stroke-width="1"/>
<circle cx="216.53" cy="552.8" r="1.8" fill="#808080"/>
<circle cx="226.98" cy="552.8" r="1.8" fill="#808080"/>
<circle cx="239.52" cy="552.8" r="1.8" fill="#808080"/>
<circle cx="243.7" cy="552.8" r="1.8" fill="#808080"/>
<circle cx="255.4" cy="552.8" r="1.8" fill="#808080"/>
<circle cx="264.6" cy="552.8" r="1.8" fill="#808080"/>
<line x1="236.59" y1="566.4" x2="282.57" y2="566.4" stroke="#222" stroke-width="1"/>
<line x1="236.59" y1="564.4" x2="236.59" y2="568.4" stroke="#222" stroke-width="1"/>
<line x1="282.57" y1="564.4" x2="282.57" y2="568.4" stroke="#222" stroke-width="1"/>
<circle cx="233.25" cy="566.4" r="1.8" fill="#808080"/>
<circle cx="241.61" cy="565.4" r="1.8" fill="#808080"/>
<circle cx="252.06" cy="567.4" r="1.8" fill="#808080"/>
<circle cx="262.51" cy="566.4" r="1.8" fill="#808080"/>
<circle cx="272.96" cy="566.4" r="1.8" fill="#808080"/>
<circle cx="282.16" cy="566.4" r="1.8" fill="#808080"/>
<circle cx="287.59" cy="566.4" r="1.8" fill="#808080"/>
<line x1="231.16" y1="580" x2="241.19" y2="580" stroke="#222" stroke-width="1"/>
<line x1="231.16" y1="578" x2="231.16" y2="582" stroke="#222" stroke-width="1"/>
<line x1="241.19" y1="578" x2="241.19" y2="582" stroke="#222" stroke-width="1"/>
<circle cx="222.8" cy="580" r="1.8" fill="#808080"/>
<circle cx="231.16" cy="580" r="1.8" fill="#808080"/>
<circle cx="239.52" cy="580" r="1.8" fill="#808080"/>
<circle cx="247.88" cy="580" r="1.8" fill="#808080"/>
<text x="315.6" y="501.98" text-anchor="middle"><tspan font-size="16.5" dy="4.7" stroke="#000" stroke-width="0.35">*</tspan><tspan dy="-4.7">8</tspan></text>
<text x="315.6" y="515.58" text-anchor="middle">ns9</text>
<text x="315.6" y="529.18" text-anchor="middle"><tspan font-size="16.5" dy="4.7" stroke="#000" stroke-width="0.35">*</tspan><tspan dy="-4.7">10</tspan></text>
<text x="315.6" y="542.78" text-anchor="middle">ns11</text>
<text x="315.6" y="556.38" text-anchor="middle">ns12</text>
<text x="315.6" y="569.98" text-anchor="middle">ns13</text>
<text x="315.6" y="583.58" text-anchor="middle">ns14</text>
<text x="2.8" y="626.3" font-size="15.5" font-weight="bold">C</text>
<text x="135.8" y="621" text-anchor="middle" fill="#111">Ddi1</text>
<rect x="80" y="627.6" width="34.1" height="13.4" fill="#f9a21c"/>
<rect x="114.1" y="627.6" width="24.9" height="13.4" fill="#fcd9a3"/>
<rect x="139" y="627.6" width="28.4" height="13.4" fill="#f9a21c"/>
<rect x="167.4" y="627.6" width="23.2" height="13.4" fill="#fcd9a3"/>
<rect x="80" y="627.6" width="110.6" height="13.4" fill="none" stroke="#4a4a4a" stroke-width="1"/>
<text x="97.05" y="637.9" text-anchor="middle" fill="#3b2a12">Ubl</text>
<text x="126.55" y="637.9" text-anchor="middle" fill="#3b2a12">HDD</text>
<text x="153.2" y="637.9" text-anchor="middle" fill="#3b2a12">RVP</text>
<text x="179" y="637.9" text-anchor="middle" fill="#3b2a12">Uba</text>
<text x="75.5" y="637.9" text-anchor="end" fill="#111">WT</text>
<rect x="80" y="661.9" width="34.1" height="13.4" fill="#f9a21c"/>
<rect x="114.1" y="661.9" width="24.9" height="13.4" fill="#fcd9a3"/>
<rect x="139" y="661.9" width="28.4" height="13.4" fill="#f9a21c"/>
<rect x="167.4" y="661.9" width="23.2" height="13.4" fill="#fcd9a3"/>
<rect x="80" y="661.9" width="110.6" height="13.4" fill="none" stroke="#4a4a4a" stroke-width="1"/>
<text x="97.05" y="672.2" text-anchor="middle" fill="#3b2a12">Ubl</text>
<text x="126.55" y="672.2" text-anchor="middle" fill="#3b2a12">HDD</text>
<text x="153.2" y="672.2" text-anchor="middle" fill="#3b2a12">RVP*</text>
<text x="179" y="672.2" text-anchor="middle" fill="#3b2a12">Uba</text>
<text x="75.5" y="672.2" text-anchor="end" fill="#111">D220A</text>
<rect x="80" y="679.4" width="34.1" height="13.4" fill="#f9a21c"/>
<rect x="114.1" y="679.4" width="24.9" height="13.4" fill="#fcd9a3"/>
<rect x="139" y="679.4" width="28.4" height="13.4" fill="#f9a21c"/>
<rect x="80" y="679.4" width="87.4" height="13.4" fill="none" stroke="#4a4a4a" stroke-width="1"/>
<text x="97.05" y="689.7" text-anchor="middle" fill="#3b2a12">Ubl</text>
<text x="126.55" y="689.7" text-anchor="middle" fill="#3b2a12">HDD</text>
<text x="153.2" y="689.7" text-anchor="middle" fill="#3b2a12">RVP</text>
<text x="75.5" y="689.7" text-anchor="end" fill="#111">&#916;Uba</text>
<rect x="114.1" y="696.4" width="24.9" height="13.4" fill="#fcd9a3"/>
<rect x="139" y="696.4" width="28.4" height="13.4" fill="#f9a21c"/>
<rect x="167.4" y="696.4" width="23.2" height="13.4" fill="#fcd9a3"/>
<rect x="114.1" y="696.4" width="76.5" height="13.4" fill="none" stroke="#4a4a4a" stroke-width="1"/>
<text x="126.55" y="706.7" text-anchor="middle" fill="#3b2a12">HDD</text>
<text x="153.2" y="706.7" text-anchor="middle" fill="#3b2a12">RVP</text>
<text x="179" y="706.7" text-anchor="middle" fill="#3b2a12">Uba</text>
<text x="75.5" y="706.7" text-anchor="end" fill="#111">&#916;Ubl</text>
<rect x="114.1" y="713.9" width="24.9" height="13.4" fill="#fcd9a3"/>
<rect x="139" y="713.9" width="28.4" height="13.4" fill="#f9a21c"/>
<rect x="114.1" y="713.9" width="53.3" height="13.4" fill="none" stroke="#4a4a4a" stroke-width="1"/>
<text x="126.55" y="724.2" text-anchor="middle" fill="#3b2a12">HDD</text>
<text x="153.2" y="724.2" text-anchor="middle" fill="#3b2a12">RVP</text>
<text x="75.5" y="724.2" text-anchor="end" fill="#111">&#916;Ubl &#916;Uba</text>
<rect x="80" y="731.4" width="34.1" height="13.4" fill="#f9a21c"/>
<rect x="114.1" y="731.4" width="24.9" height="13.4" fill="#fcd9a3"/>
<rect x="139" y="731.4" width="28.4" height="13.4" fill="#f9a21c"/>
<rect x="80" y="731.4" width="87.4" height="13.4" fill="none" stroke="#4a4a4a" stroke-width="1"/>
<text x="97.05" y="741.7" text-anchor="middle" fill="#3b2a12">Ubl*</text>
<text x="126.55" y="741.7" text-anchor="middle" fill="#3b2a12">HDD</text>
<text x="153.2" y="741.7" text-anchor="middle" fill="#3b2a12">RVP</text>
<text x="75.5" y="741.7" text-anchor="end" fill="#111">Ubl1<tspan font-size="6" dy="-3.6">E8A, I13A</tspan><tspan dy="3.6"> &#916;Uba</tspan></text>
<rect x="80" y="748.5" width="34.1" height="13.4" fill="#f9a21c"/>
<rect x="114.1" y="748.5" width="24.9" height="13.4" fill="#fcd9a3"/>
<rect x="139" y="748.5" width="28.4" height="13.4" fill="#f9a21c"/>
<rect x="167.4" y="748.5" width="23.2" height="13.4" fill="#fcd9a3"/>
<rect x="80" y="748.5" width="110.6" height="13.4" fill="none" stroke="#4a4a4a" stroke-width="1"/>
<text x="97.05" y="758.8" text-anchor="middle" fill="#3b2a12">Ubl</text>
<text x="126.55" y="758.8" text-anchor="middle" fill="#3b2a12">HDD</text>
<text x="153.2" y="758.8" text-anchor="middle" fill="#3b2a12">RVP</text>
<text x="179" y="758.8" text-anchor="middle" fill="#3b2a12">Uba</text>
<text x="75.5" y="758.8" text-anchor="end" fill="#111"><tspan font-style="italic">pTEF</tspan>-WT</text>
<rect x="80" y="786.3" width="34.1" height="13.4" fill="#f9a21c"/>
<rect x="114.1" y="786.3" width="24.9" height="13.4" fill="#fcd9a3"/>
<rect x="139" y="786.3" width="28.4" height="13.4" fill="#f9a21c"/>
<rect x="167.4" y="786.3" width="23.2" height="13.4" fill="#fcd9a3"/>
<rect x="80" y="786.3" width="110.6" height="13.4" fill="none" stroke="#4a4a4a" stroke-width="1"/>
<text x="97.05" y="796.6" text-anchor="middle" fill="#3b2a12">Ubl</text>
<text x="126.55" y="796.6" text-anchor="middle" fill="#3b2a12">HDD</text>
<text x="153.2" y="796.6" text-anchor="middle" fill="#3b2a12">RVP</text>
<text x="179" y="796.6" text-anchor="middle" fill="#3b2a12">Uba</text>
<text x="75.5" y="796.6" text-anchor="end" fill="#111"><tspan font-style="italic">pTEF</tspan>-WT</text>
<rect x="80" y="820.1" width="34.1" height="13.4" fill="#f9a21c"/>
<rect x="114.1" y="820.1" width="24.9" height="13.4" fill="#fcd9a3"/>
<rect x="139" y="820.1" width="28.4" height="13.4" fill="#f9a21c"/>
<rect x="80" y="820.1" width="87.4" height="13.4" fill="none" stroke="#4a4a4a" stroke-width="1"/>
<text x="97.05" y="830.4" text-anchor="middle" fill="#3b2a12">Ubl<tspan font-size="6" dy="-3.6">dsk2</tspan><tspan dy="3.6"></tspan></text>
<text x="126.55" y="830.4" text-anchor="middle" fill="#3b2a12">HDD</text>
<text x="153.2" y="830.4" text-anchor="middle" fill="#3b2a12">RVP</text>
<text x="75.5" y="830.4" text-anchor="end" fill="#111">Ubl1<tspan font-size="6" dy="-3.6">Dsk2</tspan><tspan dy="3.6"> &#916;Uba</tspan></text>
<rect x="80" y="838.6" width="34.1" height="13.4" fill="#f9a21c"/>
<rect x="114.1" y="838.6" width="24.9" height="13.4" fill="#fcd9a3"/>
<rect x="139" y="838.6" width="28.4" height="13.4" fill="#f9a21c"/>
<rect x="80" y="838.6" width="87.4" height="13.4" fill="none" stroke="#4a4a4a" stroke-width="1"/>
<text x="97.05" y="848.9" text-anchor="middle" fill="#3b2a12">Ubl<tspan font-size="6" dy="-3.6">rad23</tspan><tspan dy="3.6"></tspan></text>
<text x="126.55" y="848.9" text-anchor="middle" fill="#3b2a12">HDD</text>
<text x="153.2" y="848.9" text-anchor="middle" fill="#3b2a12">RVP</text>
<text x="75.5" y="848.9" text-anchor="end" fill="#111">Ubl1<tspan font-size="6" dy="-3.6">Rad23</tspan><tspan dy="3.6"> &#916;Uba</tspan></text>
<rect x="80" y="855.7" width="34.1" height="13.4" fill="#fb7d0a"/>
<rect x="114.1" y="855.7" width="24.9" height="13.4" fill="#fdcaa0"/>
<rect x="139" y="855.7" width="28.4" height="13.4" fill="#fb7d0a"/>
<rect x="167.4" y="855.7" width="23.2" height="13.4" fill="#fdcaa0"/>
<rect x="80" y="855.7" width="110.6" height="13.4" fill="none" stroke="#4a4a4a" stroke-width="1"/>
<text x="97.05" y="866" text-anchor="middle" fill="#3b2a12">Ubl</text>
<text x="126.55" y="866" text-anchor="middle" fill="#3b2a12">HDD</text>
<text x="153.2" y="866" text-anchor="middle" fill="#3b2a12">RVP</text>
<text x="179" y="866" text-anchor="middle" fill="#3b2a12">UIM</text>
<text x="75.5" y="866" text-anchor="end" fill="#111">human DDI1</text>
<rect x="80" y="873.2" width="34.1" height="13.4" fill="#fb7d0a"/>
<rect x="114.1" y="873.2" width="24.9" height="13.4" fill="#fdcaa0"/>
<rect x="139" y="873.2" width="28.4" height="13.4" fill="#fb7d0a"/>
<rect x="167.4" y="873.2" width="23.2" height="13.4" fill="#fdcaa0"/>
<rect x="80" y="873.2" width="110.6" height="13.4" fill="none" stroke="#4a4a4a" stroke-width="1"/>
<text x="97.05" y="883.5" text-anchor="middle" fill="#3b2a12">Ubl</text>
<text x="126.55" y="883.5" text-anchor="middle" fill="#3b2a12">HDD</text>
<text x="153.2" y="883.5" text-anchor="middle" fill="#3b2a12">RVP</text>
<text x="179" y="883.5" text-anchor="middle" fill="#3b2a12">UIM</text>
<text x="75.5" y="883.5" text-anchor="end" fill="#111">human DDI2</text>
<rect x="114.1" y="890.7" width="24.9" height="13.4" fill="#f6e09a"/>
<rect x="139" y="890.7" width="28.4" height="13.4" fill="#e9c342"/>
<rect x="167.4" y="890.7" width="23.2" height="13.4" fill="#f6e09a"/>
<rect x="114.1" y="890.7" width="76.5" height="13.4" fill="none" stroke="#4a4a4a" stroke-width="1"/>
<text x="126.55" y="901" text-anchor="middle" fill="#3b2a12">HDD</text>
<text x="153.2" y="901" text-anchor="middle" fill="#3b2a12">RVP</text>
<text x="179" y="901" text-anchor="middle" fill="#3b2a12">Uba</text>
<text x="75.5" y="901" text-anchor="end" fill="#111"><tspan font-style="italic">S. pombe</tspan> Ddi1</text>
<text x="217.5" y="638.7" fill="#111">Ddi1-Clip NG (% WT)</text>
<line x1="209.3" y1="656.2" x2="312.9" y2="656.2" stroke="#333" stroke-width="1"/>
<line x1="216.4" y1="652.4" x2="216.4" y2="656.2" stroke="#333" stroke-width="1"/>
<line x1="240.2" y1="652.4" x2="240.2" y2="656.2" stroke="#333" stroke-width="1"/>
<line x1="264" y1="652.4" x2="264" y2="656.2" stroke="#333" stroke-width="1"/>
<line x1="287.8" y1="652.4" x2="287.8" y2="656.2" stroke="#333" stroke-width="1"/>
<line x1="312.9" y1="652.2" x2="312.9" y2="660" stroke="#333" stroke-width="1"/>
<line x1="322.1" y1="656.2" x2="344.3" y2="656.2" stroke="#333" stroke-width="1"/>
<line x1="322.1" y1="652.2" x2="322.1" y2="660" stroke="#333" stroke-width="1"/>
<line x1="332.2" y1="652.4" x2="332.2" y2="656.2" stroke="#333" stroke-width="1"/>
<line x1="344.3" y1="652.4" x2="344.3" y2="656.2" stroke="#333" stroke-width="1"/>
<text x="216.4" y="649.8" text-anchor="middle" fill="#111">0</text>
<text x="263.6" y="649.8" text-anchor="middle" fill="#111">100</text>
<text x="308.6" y="649.8" text-anchor="middle" fill="#111">200</text>
<text x="331.1" y="649.8" text-anchor="middle" fill="#111">300</text>
<text x="350.2" y="649.8" text-anchor="middle" fill="#111">400</text>
<line x1="216.4" y1="656.2" x2="216.4" y2="765" stroke="#222" stroke-width="1"/>
<line x1="264" y1="656.2" x2="264" y2="765" stroke="#444" stroke-width="1" stroke-dasharray="2,2"/>
<rect x="210.69" y="663.35" width="5.71" height="10.5" fill="#e6e6e6" stroke="#111" stroke-width="1"/>
<rect x="216.4" y="680.85" width="46.17" height="10.5" fill="#e6e6e6" stroke="#111" stroke-width="1"/>
<rect x="216.4" y="697.85" width="23.32" height="10.5" fill="#e6e6e6" stroke="#111" stroke-width="1"/>
<rect x="216.4" y="715.35" width="12.38" height="10.5" fill="#e6e6e6" stroke="#111" stroke-width="1"/>
<rect x="216.4" y="732.85" width="20.47" height="10.5" fill="#e6e6e6" stroke="#111" stroke-width="1"/>
<rect x="216.4" y="749.95" width="88.54" height="10.5" fill="#e6e6e6" stroke="#111" stroke-width="1"/>
<line x1="206.4" y1="668.6" x2="214.97" y2="668.6" stroke="#222" stroke-width="1"/>
<line x1="206.4" y1="666.4" x2="206.4" y2="670.8" stroke="#222" stroke-width="1"/>
<line x1="214.97" y1="666.4" x2="214.97" y2="670.8" stroke="#222" stroke-width="1"/>
<circle cx="204.5" cy="668.6" r="1.8" fill="#808080"/>
<circle cx="211.64" cy="668.6" r="1.8" fill="#808080"/>
<circle cx="214.02" cy="668.6" r="1.8" fill="#808080"/>
<line x1="258.76" y1="686.1" x2="266.38" y2="686.1" stroke="#222" stroke-width="1"/>
<line x1="258.76" y1="683.9" x2="258.76" y2="688.3" stroke="#222" stroke-width="1"/>
<line x1="266.38" y1="683.9" x2="266.38" y2="688.3" stroke="#222" stroke-width="1"/>
<circle cx="252.1" cy="686.1" r="1.8" fill="#808080"/>
<circle cx="260.19" cy="685.1" r="1.8" fill="#808080"/>
<circle cx="264" cy="687.1" r="1.8" fill="#808080"/>
<circle cx="268.76" cy="686.1" r="1.8" fill="#808080"/>
<line x1="234.49" y1="703.1" x2="244.96" y2="703.1" stroke="#222" stroke-width="1"/>
<line x1="234.49" y1="700.9" x2="234.49" y2="705.3" stroke="#222" stroke-width="1"/>
<line x1="244.96" y1="700.9" x2="244.96" y2="705.3" stroke="#222" stroke-width="1"/>
<circle cx="229.73" cy="703.1" r="1.8" fill="#808080"/>
<circle cx="234.49" cy="703.1" r="1.8" fill="#808080"/>
<circle cx="240.2" cy="703.1" r="1.8" fill="#808080"/>
<circle cx="247.34" cy="703.1" r="1.8" fill="#808080"/>
<circle cx="264" cy="703.1" r="1.8" fill="#808080"/>
<line x1="225.92" y1="720.6" x2="231.63" y2="720.6" stroke="#222" stroke-width="1"/>
<line x1="225.92" y1="718.4" x2="225.92" y2="722.8" stroke="#222" stroke-width="1"/>
<line x1="231.63" y1="718.4" x2="231.63" y2="722.8" stroke="#222" stroke-width="1"/>
<circle cx="222.11" cy="720.6" r="1.8" fill="#808080"/>
<circle cx="226.87" cy="720.6" r="1.8" fill="#808080"/>
<circle cx="230.68" cy="720.6" r="1.8" fill="#808080"/>
<circle cx="239.25" cy="720.6" r="1.8" fill="#808080"/>
<line x1="229.73" y1="738.1" x2="244.01" y2="738.1" stroke="#222" stroke-width="1"/>
<line x1="229.73" y1="735.9" x2="229.73" y2="740.3" stroke="#222" stroke-width="1"/>
<line x1="244.01" y1="735.9" x2="244.01" y2="740.3" stroke="#222" stroke-width="1"/>
<circle cx="221.16" cy="738.1" r="1.8" fill="#808080"/>
<circle cx="230.68" cy="738.1" r="1.8" fill="#808080"/>
<circle cx="242.58" cy="738.1" r="1.8" fill="#808080"/>
<circle cx="253.53" cy="738.1" r="1.8" fill="#808080"/>
<line x1="293.04" y1="755.2" x2="316.84" y2="755.2" stroke="#222" stroke-width="1"/>
<line x1="293.04" y1="753" x2="293.04" y2="757.4" stroke="#222" stroke-width="1"/>
<line x1="316.84" y1="753" x2="316.84" y2="757.4" stroke="#222" stroke-width="1"/>
<circle cx="259.24" cy="753.2" r="1.8" fill="#808080"/>
<circle cx="260.19" cy="757.2" r="1.8" fill="#808080"/>
<circle cx="275.9" cy="755.2" r="1.8" fill="#808080"/>
<circle cx="324.4" cy="755.2" r="1.7" fill="#333"/>
<line x1="324.4" y1="755.2" x2="332.9" y2="755.2" stroke="#222" stroke-width="1"/>
<line x1="332.9" y1="752.9" x2="332.9" y2="757.5" stroke="#222" stroke-width="1"/>
<circle cx="341.7" cy="755.2" r="1.7" fill="#888"/>
<text x="355.2" y="672.18" text-anchor="middle"><tspan font-size="16.5" dy="4.7" stroke="#000" stroke-width="0.35">*</tspan><tspan dy="-4.7">1</tspan></text>
<text x="355.2" y="689.68" text-anchor="middle">ns2</text>
<text x="355.2" y="706.68" text-anchor="middle"><tspan font-size="16.5" dy="4.7" stroke="#000" stroke-width="0.35">*</tspan><tspan dy="-4.7">3</tspan></text>
<text x="355.2" y="724.18" text-anchor="middle"><tspan font-size="16.5" dy="4.7" stroke="#000" stroke-width="0.35">*</tspan><tspan dy="-4.7">4</tspan></text>
<text x="355.2" y="741.68" text-anchor="middle"><tspan font-size="16.5" dy="4.7" stroke="#000" stroke-width="0.35">*</tspan><tspan dy="-4.7">5</tspan></text>
<text x="355.2" y="758.78" text-anchor="middle">ns6</text>
<text x="202.8" y="797.6" fill="#111">Ddi1-Clip NG (% <tspan font-style="italic">pTEF</tspan>-WT)</text>
<line x1="209.3" y1="816.7" x2="287.6" y2="816.7" stroke="#333" stroke-width="1"/>
<line x1="216.8" y1="812.9" x2="216.8" y2="816.7" stroke="#333" stroke-width="1"/>
<line x1="240.3" y1="812.9" x2="240.3" y2="816.7" stroke="#333" stroke-width="1"/>
<line x1="263.8" y1="812.9" x2="263.8" y2="816.7" stroke="#333" stroke-width="1"/>
<line x1="287.3" y1="812.9" x2="287.3" y2="816.7" stroke="#333" stroke-width="1"/>
<text x="217.3" y="810.2" text-anchor="middle" fill="#111">0</text>
<text x="264.2" y="810.2" text-anchor="middle" fill="#111">100</text>
<line x1="216.8" y1="816.7" x2="216.8" y2="910" stroke="#222" stroke-width="1"/>
<line x1="263.8" y1="816.7" x2="263.8" y2="910" stroke="#444" stroke-width="1" stroke-dasharray="2,2"/>
<rect x="216.8" y="822.65" width="0.47" height="10.5" fill="#e6e6e6" stroke="#111" stroke-width="1"/>
<rect x="215.86" y="840.15" width="0.94" height="10.5" fill="#e6e6e6" stroke="#111" stroke-width="1"/>
<rect x="216.8" y="858.05" width="34.78" height="10.5" fill="#e6e6e6" stroke="#111" stroke-width="1"/>
<rect x="216.8" y="875.35" width="50.76" height="10.5" fill="#e6e6e6" stroke="#111" stroke-width="1"/>
<rect x="216.8" y="892.75" width="44.18" height="10.5" fill="#e6e6e6" stroke="#111" stroke-width="1"/>
<line x1="216.8" y1="827.9" x2="217.74" y2="827.9" stroke="#222" stroke-width="1"/>
<line x1="216.8" y1="825.7" x2="216.8" y2="830.1" stroke="#222" stroke-width="1"/>
<line x1="217.74" y1="825.7" x2="217.74" y2="830.1" stroke="#222" stroke-width="1"/>
<circle cx="217.27" cy="825.9" r="1.8" fill="#808080"/>
<circle cx="217.74" cy="829.9" r="1.8" fill="#808080"/>
<line x1="214.92" y1="845.4" x2="216.8" y2="845.4" stroke="#222" stroke-width="1"/>
<line x1="214.92" y1="843.2" x2="214.92" y2="847.6" stroke="#222" stroke-width="1"/>
<line x1="216.8" y1="843.2" x2="216.8" y2="847.6" stroke="#222" stroke-width="1"/>
<circle cx="214.92" cy="843.4" r="1.8" fill="#808080"/>
<circle cx="215.86" cy="846.4" r="1.8" fill="#808080"/>
<line x1="233.72" y1="863.3" x2="269.44" y2="863.3" stroke="#222" stroke-width="1"/>
<line x1="233.72" y1="861.1" x2="233.72" y2="865.5" stroke="#222" stroke-width="1"/>
<line x1="269.44" y1="861.1" x2="269.44" y2="865.5" stroke="#222" stroke-width="1"/>
<circle cx="235.6" cy="861.3" r="1.8" fill="#808080"/>
<circle cx="250.64" cy="863.3" r="1.8" fill="#808080"/>
<circle cx="237.01" cy="865.3" r="1.8" fill="#808080"/>
<circle cx="255.81" cy="865.3" r="1.8" fill="#808080"/>
<circle cx="282.6" cy="863.3" r="1.8" fill="#808080"/>
<line x1="260.51" y1="880.6" x2="274.61" y2="880.6" stroke="#222" stroke-width="1"/>
<line x1="260.51" y1="878.4" x2="260.51" y2="882.8" stroke="#222" stroke-width="1"/>
<line x1="274.61" y1="878.4" x2="274.61" y2="882.8" stroke="#222" stroke-width="1"/>
<circle cx="256.75" cy="880.6" r="1.8" fill="#808080"/>
<circle cx="260.04" cy="878.6" r="1.8" fill="#808080"/>
<circle cx="263.8" cy="880.6" r="1.8" fill="#808080"/>
<circle cx="281.19" cy="880.6" r="1.8" fill="#808080"/>
<circle cx="284.01" cy="880.6" r="1.8" fill="#808080"/>
<line x1="258.16" y1="898" x2="263.8" y2="898" stroke="#222" stroke-width="1"/>
<line x1="258.16" y1="895.8" x2="258.16" y2="900.2" stroke="#222" stroke-width="1"/>
<line x1="263.8" y1="895.8" x2="263.8" y2="900.2" stroke="#222" stroke-width="1"/>
<circle cx="256.75" cy="898" r="1.8" fill="#808080"/>
<circle cx="263.8" cy="896" r="1.8" fill="#808080"/>
<circle cx="262.39" cy="900" r="1.8" fill="#808080"/>
<text x="300.3" y="831.48" text-anchor="middle"><tspan font-size="16.5" dy="4.7" stroke="#000" stroke-width="0.35">*</tspan><tspan dy="-4.7">7</tspan></text>
<text x="300.3" y="848.98" text-anchor="middle"><tspan font-size="16.5" dy="4.7" stroke="#000" stroke-width="0.35">*</tspan><tspan dy="-4.7">8</tspan></text>
<text x="300.3" y="866.88" text-anchor="middle">ns9</text>
<text x="300.3" y="884.18" text-anchor="middle">ns10</text>
<text x="300.3" y="901.58" text-anchor="middle">ns11</text>
<text x="386.6" y="12.6" font-size="15.5" font-weight="bold">D</text>
<line x1="425" y1="21.2" x2="425" y2="111.7" stroke="#222" stroke-width="1"/>
<line x1="421.2" y1="23.6" x2="425" y2="23.6" stroke="#222" stroke-width="1"/>
<text x="420.8" y="27.2" text-anchor="end" fill="#111">1.00</text>
<line x1="421.2" y1="45.63" x2="425" y2="45.63" stroke="#222" stroke-width="1"/>
<text x="420.8" y="49.23" text-anchor="end" fill="#111">0.75</text>
<line x1="421.2" y1="67.65" x2="425" y2="67.65" stroke="#222" stroke-width="1"/>
<text x="420.8" y="71.25" text-anchor="end" fill="#111">0.50</text>
<line x1="421.2" y1="89.68" x2="425" y2="89.68" stroke="#222" stroke-width="1"/>
<text x="420.8" y="93.28" text-anchor="end" fill="#111">0.25</text>
<line x1="421.2" y1="111.7" x2="425" y2="111.7" stroke="#222" stroke-width="1"/>
<text x="420.8" y="115.3" text-anchor="end" fill="#111">0.00</text>
<line x1="425" y1="111.7" x2="512.12" y2="111.7" stroke="#222" stroke-width="1"/>
<line x1="425" y1="111.7" x2="425" y2="115.5" stroke="#222" stroke-width="1"/>
<text x="425" y="124.2" text-anchor="middle" fill="#111">0</text>
<line x1="446.25" y1="111.7" x2="446.25" y2="115.5" stroke="#222" stroke-width="1"/>
<text x="446.25" y="124.2" text-anchor="middle" fill="#111">100</text>
<line x1="467.5" y1="111.7" x2="467.5" y2="115.5" stroke="#222" stroke-width="1"/>
<text x="467.5" y="124.2" text-anchor="middle" fill="#111">200</text>
<line x1="488.75" y1="111.7" x2="488.75" y2="115.5" stroke="#222" stroke-width="1"/>
<text x="488.75" y="124.2" text-anchor="middle" fill="#111">300</text>
<line x1="510" y1="111.7" x2="510" y2="115.5" stroke="#222" stroke-width="1"/>
<text x="510" y="124.2" text-anchor="middle" fill="#111">400</text>
<text x="415" y="137.8" fill="#111">[<tspan font-style="italic">Sc</tspan>Ddi1 HDD-RVP] (&#956;M)</text>
<text x="394.6" y="67.7" text-anchor="middle" fill="#222" transform="rotate(-90 394.6 67.7)">Bound Fraction</text>
<path d="M425,111.7 L425.85,109.3 L426.7,106.96 L427.55,104.69 L428.4,102.48 L429.25,100.33 L430.1,98.24 L430.95,96.21 L431.8,94.23 L432.65,92.31 L433.5,90.44 L434.35,88.62 L435.2,86.85 L436.05,85.13 L436.9,83.46 L437.75,81.83 L438.6,80.25 L439.45,78.71 L440.3,77.21 L441.15,75.75 L442,74.34 L442.85,72.96 L443.7,71.62 L444.55,70.31 L445.4,69.05 L446.25,67.81 L447.1,66.61 L447.95,65.45 L448.8,64.31 L449.65,63.21 L450.5,62.14 L451.35,61.09 L452.2,60.08 L453.05,59.09 L453.9,58.13 L454.75,57.2 L455.6,56.29 L456.45,55.41 L457.3,54.55 L458.15,53.71 L459,52.9 L459.85,52.11 L460.7,51.34 L461.55,50.59 L462.4,49.86 L463.25,49.16 L464.1,48.47 L464.95,47.8 L465.8,47.15 L466.65,46.51 L467.5,45.9 L468.35,45.3 L469.2,44.72 L470.05,44.15 L470.9,43.6 L471.75,43.06 L472.6,42.54 L473.45,42.04 L474.3,41.54 L475.15,41.06 L476,40.6 L476.85,40.14 L477.7,39.7 L478.55,39.27 L479.4,38.86 L480.25,38.45 L481.1,38.06 L481.95,37.67 L482.8,37.3 L483.65,36.93 L484.5,36.58 L485.35,36.24 L486.2,35.9 L487.05,35.58 L487.9,35.26 L488.75,34.96 L489.6,34.66 L490.45,34.37 L491.3,34.08 L492.15,33.81 L493,33.54 L493.85,33.28 L494.7,33.03 L495.55,32.78 L496.4,32.54 L497.25,32.31 L498.1,32.08 L498.95,31.86 L499.8,31.65 L500.65,31.44 L501.5,31.24 L502.35,31.04 L503.2,30.85 L504.05,30.66 L504.9,30.48 L505.75,30.3 L506.6,30.13 L507.45,29.96 L508.3,29.8 L509.15,29.64 L510,29.49" fill="none" stroke="#111" stroke-width="1.1"/>
<circle cx="425" cy="111.7" r="3.7" fill="#000"/>
<circle cx="435.2" cy="89.68" r="3.7" fill="#000"/>
<circle cx="446.04" cy="65.89" r="3.7" fill="#000"/>
<circle cx="467.07" cy="45.63" r="3.7" fill="#000"/>
<circle cx="488.11" cy="35.05" r="3.7" fill="#000"/>
<circle cx="509.36" cy="30.65" r="3.7" fill="#000"/>
<text x="445.6" y="103.2" fill="#111">K<tspan font-size="6" dy="2">d</tspan><tspan dy="-2">=130 &#177; 21 &#956;M</tspan></text>
<text x="466.7" y="20.4" fill="#111"><tspan font-style="italic">S. cerevisiae</tspan> HDD-RVP + <tspan font-size="6" dy="-3.6">15</tspan><tspan dy="3.6">N-Ub</tspan></text>
<text x="386.6" y="171.2" font-size="15.5" font-weight="bold">E</text>
<line x1="425" y1="176.9" x2="425" y2="267.4" stroke="#222" stroke-width="1"/>
<line x1="421.2" y1="179.3" x2="425" y2="179.3" stroke="#222" stroke-width="1"/>
<text x="420.8" y="182.9" text-anchor="end" fill="#111">1.00</text>
<line x1="421.2" y1="201.32" x2="425" y2="201.32" stroke="#222" stroke-width="1"/>
<text x="420.8" y="204.92" text-anchor="end" fill="#111">0.75</text>
<line x1="421.2" y1="223.35" x2="425" y2="223.35" stroke="#222" stroke-width="1"/>
<text x="420.8" y="226.95" text-anchor="end" fill="#111">0.50</text>
<line x1="421.2" y1="245.37" x2="425" y2="245.37" stroke="#222" stroke-width="1"/>
<text x="420.8" y="248.97" text-anchor="end" fill="#111">0.25</text>
<line x1="421.2" y1="267.4" x2="425" y2="267.4" stroke="#222" stroke-width="1"/>
<text x="420.8" y="271" text-anchor="end" fill="#111">0.00</text>
<line x1="425" y1="267.4" x2="512.12" y2="267.4" stroke="#222" stroke-width="1"/>
<line x1="425" y1="267.4" x2="425" y2="271.2" stroke="#222" stroke-width="1"/>
<text x="425" y="279.9" text-anchor="middle" fill="#111">0</text>
<line x1="446.25" y1="267.4" x2="446.25" y2="271.2" stroke="#222" stroke-width="1"/>
<text x="446.25" y="279.9" text-anchor="middle" fill="#111">100</text>
<line x1="467.5" y1="267.4" x2="467.5" y2="271.2" stroke="#222" stroke-width="1"/>
<text x="467.5" y="279.9" text-anchor="middle" fill="#111">200</text>
<line x1="488.75" y1="267.4" x2="488.75" y2="271.2" stroke="#222" stroke-width="1"/>
<text x="488.75" y="279.9" text-anchor="middle" fill="#111">300</text>
<line x1="510" y1="267.4" x2="510" y2="271.2" stroke="#222" stroke-width="1"/>
<text x="510" y="279.9" text-anchor="middle" fill="#111">400</text>
<text x="416.6" y="295.3" fill="#111">[hDDI2 HDD-RVP] (&#956;M)</text>
<text x="394.6" y="227.4" text-anchor="middle" fill="#222" transform="rotate(-90 394.6 227.4)">Bound Fraction</text>
<path d="M425,267.4 L425.85,264.76 L426.7,262.19 L427.55,259.71 L428.4,257.3 L429.25,254.96 L430.1,252.7 L430.95,250.5 L431.8,248.37 L432.65,246.3 L433.5,244.3 L434.35,242.36 L435.2,240.47 L436.05,238.65 L436.9,236.87 L437.75,235.16 L438.6,233.49 L439.45,231.88 L440.3,230.31 L441.15,228.79 L442,227.32 L442.85,225.89 L443.7,224.5 L444.55,223.16 L445.4,221.86 L446.25,220.6 L447.1,219.37 L447.95,218.18 L448.8,217.03 L449.65,215.92 L450.5,214.83 L451.35,213.78 L452.2,212.76 L453.05,211.78 L453.9,210.82 L454.75,209.89 L455.6,208.99 L456.45,208.12 L457.3,207.27 L458.15,206.45 L459,205.65 L459.85,204.88 L460.7,204.13 L461.55,203.41 L462.4,202.7 L463.25,202.02 L464.1,201.36 L464.95,200.72 L465.8,200.1 L466.65,199.49 L467.5,198.91 L468.35,198.34 L469.2,197.79 L470.05,197.26 L470.9,196.74 L471.75,196.24 L472.6,195.75 L473.45,195.28 L474.3,194.82 L475.15,194.38 L476,193.95 L476.85,193.53 L477.7,193.13 L478.55,192.73 L479.4,192.35 L480.25,191.98 L481.1,191.63 L481.95,191.28 L482.8,190.94 L483.65,190.62 L484.5,190.3 L485.35,189.99 L486.2,189.7 L487.05,189.41 L487.9,189.13 L488.75,188.86 L489.6,188.6 L490.45,188.34 L491.3,188.09 L492.15,187.85 L493,187.62 L493.85,187.4 L494.7,187.18 L495.55,186.97 L496.4,186.76 L497.25,186.56 L498.1,186.37 L498.95,186.18 L499.8,186 L500.65,185.82 L501.5,185.65 L502.35,185.48 L503.2,185.32 L504.05,185.17 L504.9,185.02 L505.75,184.87 L506.6,184.73 L507.45,184.59 L508.3,184.46 L509.15,184.33 L510,184.2" fill="none" stroke="#111" stroke-width="1.1"/>
<circle cx="425" cy="267.4" r="3.7" fill="#000"/>
<circle cx="435.62" cy="241.85" r="3.7" fill="#000"/>
<circle cx="446.89" cy="217.18" r="3.7" fill="#000"/>
<circle cx="477.7" cy="193.4" r="3.7" fill="#000"/>
<circle cx="501.93" cy="185.91" r="3.7" fill="#000"/>
<circle cx="512.76" cy="183.7" r="3.7" fill="#000"/>
<text x="445.6" y="260.5" fill="#111">K<tspan font-size="6" dy="2">d</tspan><tspan dy="-2">=110&#177; 17 &#956;M</tspan></text>
<text x="486" y="176.6" fill="#111">human HDD-RVP + <tspan font-size="6" dy="-3.6">15</tspan><tspan dy="3.6">N-Ub</tspan></text>
<rect x="543.5" y="29.3" width="136" height="99.5" fill="#f9f9f9"/>
<rect x="543.5" y="182.5" width="136" height="101" fill="#f9f9f9"/>
<clipPath id="sD"><path d="M582.7,32.5 C584.82,33.08 587.48,35.68 589.6,37.7 C591.72,39.72 593.67,42.3 595.4,44.6 C597.13,46.9 598.85,49 600,51.5 C601.15,54 601.82,57.48 602.3,59.6 C602.78,61.72 602.13,61.88 602.9,64.2 C603.67,66.52 606.13,70.62 606.9,73.5 C607.67,76.38 607.6,79.2 607.5,81.5 C607.4,83.8 607.35,85.37 606.3,87.3 C605.25,89.23 603.22,92.13 601.2,93.1 C599.18,94.07 596.13,92.15 594.2,93.1 C592.27,94.05 590.37,96.68 589.6,98.8 C588.83,100.92 590.37,103.87 589.6,105.8 C588.83,107.73 585.97,108.48 585,110.4 C584.03,112.32 584.38,115 583.8,117.3 C583.22,119.6 582.83,122.85 581.5,124.2 C580.17,125.55 577.13,126.55 575.8,125.4 C574.47,124.25 574.67,119.23 573.5,117.3 C572.33,115.37 570.15,115.33 568.8,113.8 C567.45,112.27 566.35,110.98 565.4,108.1 C564.45,105.22 564.45,100.35 563.1,96.5 C561.75,92.65 559.23,87.5 557.3,85 C555.37,82.5 553.23,82.85 551.5,81.5 C549.77,80.15 548.05,78.82 546.9,76.9 C545.75,74.98 544.6,72.5 544.6,70 C544.6,67.5 545.75,64.2 546.9,61.9 C548.05,59.6 550.15,58.12 551.5,56.2 C552.85,54.28 553.83,52.33 555,50.4 C556.17,48.47 557.15,46.33 558.5,44.6 C559.85,42.87 561.18,41.35 563.1,40 C565.02,38.65 567.7,37.47 570,36.5 C572.3,35.53 574.78,34.87 576.9,34.2 C579.02,33.53 580.58,31.92 582.7,32.5Z"/></clipPath>
<g clip-path="url(#sD)">
<path d="M582.7,32.5 C584.82,33.08 587.48,35.68 589.6,37.7 C591.72,39.72 593.67,42.3 595.4,44.6 C597.13,46.9 598.85,49 600,51.5 C601.15,54 601.82,57.48 602.3,59.6 C602.78,61.72 602.13,61.88 602.9,64.2 C603.67,66.52 606.13,70.62 606.9,73.5 C607.67,76.38 607.6,79.2 607.5,81.5 C607.4,83.8 607.35,85.37 606.3,87.3 C605.25,89.23 603.22,92.13 601.2,93.1 C599.18,94.07 596.13,92.15 594.2,93.1 C592.27,94.05 590.37,96.68 589.6,98.8 C588.83,100.92 590.37,103.87 589.6,105.8 C588.83,107.73 585.97,108.48 585,110.4 C584.03,112.32 584.38,115 583.8,117.3 C583.22,119.6 582.83,122.85 581.5,124.2 C580.17,125.55 577.13,126.55 575.8,125.4 C574.47,124.25 574.67,119.23 573.5,117.3 C572.33,115.37 570.15,115.33 568.8,113.8 C567.45,112.27 566.35,110.98 565.4,108.1 C564.45,105.22 564.45,100.35 563.1,96.5 C561.75,92.65 559.23,87.5 557.3,85 C555.37,82.5 553.23,82.85 551.5,81.5 C549.77,80.15 548.05,78.82 546.9,76.9 C545.75,74.98 544.6,72.5 544.6,70 C544.6,67.5 545.75,64.2 546.9,61.9 C548.05,59.6 550.15,58.12 551.5,56.2 C552.85,54.28 553.83,52.33 555,50.4 C556.17,48.47 557.15,46.33 558.5,44.6 C559.85,42.87 561.18,41.35 563.1,40 C565.02,38.65 567.7,37.47 570,36.5 C572.3,35.53 574.78,34.87 576.9,34.2 C579.02,33.53 580.58,31.92 582.7,32.5Z" fill="#a4a4a4"/>
<g filter="url(#b3)"><circle cx="564.73" cy="45.33" r="2.5" fill="#c8c8c8"/><circle cx="596.56" cy="39.94" r="2.37" fill="#8c8c8c"/><circle cx="557.74" cy="39.16" r="2.04" fill="#d2d2d2"/><circle cx="549.81" cy="71.33" r="2.85" fill="#c8c8c8"/><circle cx="604.64" cy="90.91" r="2.37" fill="#c8c8c8"/><circle cx="580.93" cy="68.68" r="3.15" fill="#c8c8c8"/><circle cx="579.63" cy="43.65" r="2.04" fill="#8c8c8c"/><circle cx="551.54" cy="60.31" r="2.83" fill="#d2d2d2"/><circle cx="550.6" cy="85.26" r="1.58" fill="#c8c8c8"/><circle cx="579.06" cy="36.96" r="1.32" fill="#d2d2d2"/><circle cx="575.77" cy="81.51" r="2.75" fill="#d8d8d8"/><circle cx="581.48" cy="74.05" r="1.8" fill="#d2d2d2"/><circle cx="588.74" cy="54.19" r="2.35" fill="#8c8c8c"/><circle cx="575.69" cy="63.63" r="2.1" fill="#8c8c8c"/><circle cx="606.73" cy="42.22" r="2.04" fill="#bcbcbc"/><circle cx="553.73" cy="77.45" r="1.28" fill="#989898"/><circle cx="548.97" cy="84.02" r="2.78" fill="#bcbcbc"/><circle cx="565.77" cy="64.27" r="2.19" fill="#d8d8d8"/><circle cx="548.4" cy="39.89" r="1.74" fill="#989898"/><circle cx="586.51" cy="36.76" r="2.6" fill="#989898"/><circle cx="580.99" cy="95.72" r="2.09" fill="#989898"/><circle cx="568.69" cy="94.52" r="1.25" fill="#d8d8d8"/><circle cx="566.75" cy="89.04" r="2.19" fill="#d2d2d2"/><circle cx="593.17" cy="43.29" r="1.7" fill="#d8d8d8"/><circle cx="602.68" cy="78.17" r="1.53" fill="#d8d8d8"/><circle cx="579.16" cy="114.92" r="2.84" fill="#8c8c8c"/><circle cx="561.82" cy="70.45" r="1.92" fill="#d8d8d8"/><circle cx="605.29" cy="45.34" r="1.55" fill="#d2d2d2"/><circle cx="586.15" cy="32.15" r="2.86" fill="#d2d2d2"/><circle cx="560.82" cy="31.39" r="2.04" fill="#bcbcbc"/><circle cx="583.03" cy="61.27" r="1.45" fill="#8c8c8c"/><circle cx="604.81" cy="93.22" r="2.68" fill="#d8d8d8"/><circle cx="601.57" cy="105.1" r="2.95" fill="#8c8c8c"/><circle cx="569.11" cy="68.9" r="1.41" fill="#989898"/><circle cx="569.63" cy="49.11" r="3.17" fill="#d8d8d8"/><circle cx="554.39" cy="63.31" r="1.31" fill="#c8c8c8"/><circle cx="580.27" cy="81.98" r="3.1" fill="#8c8c8c"/><circle cx="545.63" cy="114.06" r="2.43" fill="#d2d2d2"/><circle cx="584.6" cy="121.77" r="2.4" fill="#d8d8d8"/><circle cx="551.86" cy="111.65" r="3.19" fill="#d8d8d8"/><circle cx="574.75" cy="60.63" r="1.49" fill="#989898"/><circle cx="565.93" cy="56.15" r="2.86" fill="#d2d2d2"/><circle cx="577.05" cy="50.5" r="3.1" fill="#bcbcbc"/><circle cx="553.38" cy="82.6" r="1.25" fill="#8c8c8c"/><circle cx="563.08" cy="92.08" r="1.38" fill="#bcbcbc"/><circle cx="577.18" cy="117.28" r="1.91" fill="#d2d2d2"/><circle cx="578.09" cy="105.01" r="1.86" fill="#d2d2d2"/><circle cx="583.25" cy="105.9" r="2.72" fill="#d2d2d2"/><circle cx="595.59" cy="108.74" r="2.68" fill="#d2d2d2"/><circle cx="556.79" cy="77.81" r="2.66" fill="#c8c8c8"/><circle cx="594.57" cy="75.86" r="1.59" fill="#8c8c8c"/><circle cx="605.22" cy="73.49" r="3.07" fill="#bcbcbc"/><circle cx="605.12" cy="65.64" r="1.64" fill="#d2d2d2"/><circle cx="574.09" cy="63.09" r="2.17" fill="#8c8c8c"/><circle cx="597.79" cy="76.55" r="2.51" fill="#989898"/><circle cx="549.43" cy="93.76" r="3.02" fill="#989898"/><circle cx="592.01" cy="76.41" r="1.56" fill="#989898"/><circle cx="565.28" cy="107.08" r="3.14" fill="#d8d8d8"/><circle cx="573.64" cy="101.62" r="1.37" fill="#d2d2d2"/><circle cx="554.88" cy="43.07" r="1.5" fill="#d8d8d8"/><circle cx="595.62" cy="44.89" r="2.85" fill="#d8d8d8"/><circle cx="586.07" cy="64.29" r="2.3" fill="#d2d2d2"/><circle cx="545.37" cy="106.94" r="2.65" fill="#c8c8c8"/><circle cx="577.7" cy="119.69" r="2.07" fill="#d2d2d2"/><circle cx="596.87" cy="51.05" r="1.7" fill="#bcbcbc"/><circle cx="576.07" cy="103.55" r="1.85" fill="#8c8c8c"/><circle cx="570.82" cy="43.45" r="3.02" fill="#bcbcbc"/><circle cx="601.45" cy="93.94" r="2.83" fill="#8c8c8c"/><circle cx="570.92" cy="118.18" r="2.2" fill="#8c8c8c"/><circle cx="553.72" cy="79.5" r="2.95" fill="#d2d2d2"/><circle cx="582.95" cy="104.72" r="1.5" fill="#d2d2d2"/><circle cx="574.3" cy="99.89" r="2.31" fill="#bcbcbc"/><circle cx="587.67" cy="81.42" r="2.16" fill="#c8c8c8"/><circle cx="600.53" cy="36.4" r="1.58" fill="#c8c8c8"/><circle cx="593.42" cy="79.23" r="2.32" fill="#c8c8c8"/><circle cx="572.37" cy="89.19" r="2.21" fill="#8c8c8c"/><circle cx="556.76" cy="57.33" r="2.22" fill="#d8d8d8"/><circle cx="576.5" cy="54.53" r="2.25" fill="#bcbcbc"/><circle cx="603.06" cy="115.81" r="1.61" fill="#d8d8d8"/><circle cx="552.78" cy="42.55" r="2.08" fill="#c8c8c8"/><circle cx="586.95" cy="71.69" r="1.63" fill="#bcbcbc"/><circle cx="594.17" cy="116.22" r="1.51" fill="#989898"/><circle cx="585.18" cy="65.79" r="1.71" fill="#d2d2d2"/><circle cx="605.92" cy="51.86" r="3.11" fill="#d8d8d8"/><circle cx="600.64" cy="46.47" r="2.54" fill="#d2d2d2"/><circle cx="554.33" cy="71.99" r="2.23" fill="#bcbcbc"/><circle cx="570.96" cy="64.88" r="1.38" fill="#bcbcbc"/><circle cx="545.25" cy="83.63" r="2.08" fill="#c8c8c8"/><circle cx="568.6" cy="80.16" r="1.79" fill="#c8c8c8"/><circle cx="551.22" cy="118.26" r="1.66" fill="#c8c8c8"/><circle cx="549.38" cy="56.83" r="3.01" fill="#d2d2d2"/><circle cx="561.31" cy="43.31" r="2.04" fill="#989898"/><circle cx="596.41" cy="55.57" r="1.5" fill="#8c8c8c"/><circle cx="580.52" cy="97.54" r="1.38" fill="#c8c8c8"/><circle cx="595.17" cy="48.42" r="2.99" fill="#bcbcbc"/><circle cx="604.05" cy="91.27" r="2.8" fill="#c8c8c8"/><circle cx="582.92" cy="52.13" r="1.73" fill="#c8c8c8"/><circle cx="573.04" cy="63.22" r="2.31" fill="#bcbcbc"/><circle cx="583.79" cy="35.1" r="2.62" fill="#c8c8c8"/><circle cx="606.03" cy="55.88" r="1.56" fill="#bcbcbc"/><circle cx="584.23" cy="81.45" r="1.61" fill="#d8d8d8"/><circle cx="576.01" cy="47.9" r="1.89" fill="#c8c8c8"/><circle cx="607.65" cy="34.51" r="1.24" fill="#8c8c8c"/><circle cx="579.27" cy="49" r="2.15" fill="#d8d8d8"/><circle cx="550.8" cy="108.8" r="2.06" fill="#d8d8d8"/><circle cx="578.94" cy="115.43" r="3.14" fill="#bcbcbc"/><circle cx="588.02" cy="124.33" r="1.89" fill="#989898"/><circle cx="590.65" cy="44.27" r="3.18" fill="#c8c8c8"/><circle cx="597.57" cy="32.35" r="2.45" fill="#bcbcbc"/><circle cx="571.57" cy="36.26" r="2.53" fill="#d8d8d8"/><circle cx="599.71" cy="94.7" r="1.76" fill="#d2d2d2"/><circle cx="588.33" cy="35.3" r="1.57" fill="#bcbcbc"/><circle cx="572.53" cy="56.01" r="3.12" fill="#8c8c8c"/><circle cx="564.71" cy="34.27" r="2.96" fill="#d2d2d2"/><circle cx="566.82" cy="31.1" r="1.96" fill="#d8d8d8"/><circle cx="561.85" cy="93.32" r="1.7" fill="#c8c8c8"/><circle cx="549.81" cy="108.62" r="1.49" fill="#8c8c8c"/><circle cx="546.67" cy="33.14" r="1.81" fill="#d2d2d2"/><circle cx="549.41" cy="121.98" r="2.91" fill="#d2d2d2"/><circle cx="586.08" cy="99.02" r="2.96" fill="#d8d8d8"/><circle cx="592.92" cy="99.46" r="2.19" fill="#bcbcbc"/><circle cx="590.35" cy="92.11" r="1.29" fill="#989898"/><circle cx="601.08" cy="90.6" r="2.67" fill="#8c8c8c"/><circle cx="552.92" cy="80.76" r="2.21" fill="#c8c8c8"/><circle cx="596.89" cy="86.49" r="2.99" fill="#989898"/><circle cx="605.19" cy="92.07" r="1.37" fill="#c8c8c8"/><circle cx="552.52" cy="65.27" r="1.41" fill="#d8d8d8"/><circle cx="579.75" cy="90.64" r="2.45" fill="#989898"/><circle cx="559.65" cy="56.06" r="2.11" fill="#c8c8c8"/><circle cx="591.89" cy="78.78" r="2.27" fill="#989898"/><circle cx="577.66" cy="101.84" r="2.15" fill="#c8c8c8"/><circle cx="598.15" cy="53.3" r="2.71" fill="#d2d2d2"/><circle cx="591.35" cy="123.69" r="2.19" fill="#d8d8d8"/><circle cx="548.91" cy="117.49" r="1.77" fill="#c8c8c8"/><circle cx="583.49" cy="92.06" r="1.35" fill="#d2d2d2"/><circle cx="565.23" cy="92.9" r="2.59" fill="#8c8c8c"/><circle cx="580.34" cy="32.18" r="1.32" fill="#bcbcbc"/><circle cx="606.24" cy="40.45" r="1.64" fill="#d8d8d8"/><circle cx="562.61" cy="80.07" r="2.13" fill="#d8d8d8"/><circle cx="593.1" cy="125.36" r="2.3" fill="#bcbcbc"/></g>
<clipPath id="sDr"><path d="M554.5,59.5 C555.73,58.95 558.85,58.53 560.1,59 C561.35,59.47 562,61.13 562,62.3 C562,63.47 559.63,65.22 560.1,66 C560.57,66.78 563.08,66.77 564.8,67 C566.52,67.23 569.3,66.47 570.4,67.4 C571.5,68.33 571.55,70.8 571.4,72.6 C571.25,74.4 569.5,76.65 569.5,78.2 C569.5,79.75 570.47,81.43 571.4,81.9 C572.33,82.37 574.33,82.08 575.1,81 C575.87,79.92 576.15,77.43 576,75.4 C575.85,73.37 574.2,70.37 574.2,68.8 C574.2,67.23 574.77,66.7 576,66 C577.23,65.3 579.88,64.43 581.6,64.6 C583.32,64.77 585.35,65.83 586.3,67 C587.25,68.17 587.62,69.9 587.3,71.6 C586.98,73.3 585.35,75.48 584.4,77.2 C583.45,78.92 581.9,80.18 581.6,81.9 C581.3,83.62 582.13,85.78 582.6,87.5 C583.07,89.22 583.32,91.1 584.4,92.2 C585.48,93.3 588.15,92.7 589.1,94.1 C590.05,95.5 590.1,98.27 590.1,100.6 C590.1,102.93 590.2,106.38 589.1,108.1 C588,109.82 585.68,110.28 583.5,110.9 C581.32,111.52 578.18,111.33 576,111.8 C573.82,112.27 571.95,114 570.4,113.7 C568.85,113.4 567.47,111.25 566.7,110 C565.93,108.75 566.42,107.77 565.8,106.2 C565.18,104.63 563.55,102.78 563,100.6 C562.45,98.42 563.13,95.28 562.5,93.1 C561.87,90.92 560.07,89.68 559.2,87.5 C558.33,85.32 557.92,82.02 557.3,80 C556.68,77.98 556.12,77.27 555.5,75.4 C554.88,73.53 554.07,70.98 553.6,68.8 C553.13,66.62 552.55,63.85 552.7,62.3 C552.85,60.75 553.27,60.05 554.5,59.5Z"/><path d="M600,87 C601.33,85.42 603.83,82.83 605,82.5 C606.17,82.17 606.92,83.58 607,85 C607.08,86.42 606.67,89.58 605.5,91 C604.33,92.42 601.42,93.33 600,93.5 C598.58,93.67 597,93.08 597,92 C597,90.92 598.67,88.58 600,87Z"/><path d="M598.8,58.5 C598.97,57.42 600.93,57.18 601.5,57.6 C602.07,58.02 602.37,59.92 602.2,61 C602.03,62.08 601.07,64.52 600.5,64.1 C599.93,63.68 598.63,59.58 598.8,58.5Z"/></clipPath>
<g fill="#e60000"><path d="M554.5,59.5 C555.73,58.95 558.85,58.53 560.1,59 C561.35,59.47 562,61.13 562,62.3 C562,63.47 559.63,65.22 560.1,66 C560.57,66.78 563.08,66.77 564.8,67 C566.52,67.23 569.3,66.47 570.4,67.4 C571.5,68.33 571.55,70.8 571.4,72.6 C571.25,74.4 569.5,76.65 569.5,78.2 C569.5,79.75 570.47,81.43 571.4,81.9 C572.33,82.37 574.33,82.08 575.1,81 C575.87,79.92 576.15,77.43 576,75.4 C575.85,73.37 574.2,70.37 574.2,68.8 C574.2,67.23 574.77,66.7 576,66 C577.23,65.3 579.88,64.43 581.6,64.6 C583.32,64.77 585.35,65.83 586.3,67 C587.25,68.17 587.62,69.9 587.3,71.6 C586.98,73.3 585.35,75.48 584.4,77.2 C583.45,78.92 581.9,80.18 581.6,81.9 C581.3,83.62 582.13,85.78 582.6,87.5 C583.07,89.22 583.32,91.1 584.4,92.2 C585.48,93.3 588.15,92.7 589.1,94.1 C590.05,95.5 590.1,98.27 590.1,100.6 C590.1,102.93 590.2,106.38 589.1,108.1 C588,109.82 585.68,110.28 583.5,110.9 C581.32,111.52 578.18,111.33 576,111.8 C573.82,112.27 571.95,114 570.4,113.7 C568.85,113.4 567.47,111.25 566.7,110 C565.93,108.75 566.42,107.77 565.8,106.2 C565.18,104.63 563.55,102.78 563,100.6 C562.45,98.42 563.13,95.28 562.5,93.1 C561.87,90.92 560.07,89.68 559.2,87.5 C558.33,85.32 557.92,82.02 557.3,80 C556.68,77.98 556.12,77.27 555.5,75.4 C554.88,73.53 554.07,70.98 553.6,68.8 C553.13,66.62 552.55,63.85 552.7,62.3 C552.85,60.75 553.27,60.05 554.5,59.5Z"/><path d="M600,87 C601.33,85.42 603.83,82.83 605,82.5 C606.17,82.17 606.92,83.58 607,85 C607.08,86.42 606.67,89.58 605.5,91 C604.33,92.42 601.42,93.33 600,93.5 C598.58,93.67 597,93.08 597,92 C597,90.92 598.67,88.58 600,87Z"/><path d="M598.8,58.5 C598.97,57.42 600.93,57.18 601.5,57.6 C602.07,58.02 602.37,59.92 602.2,61 C602.03,62.08 601.07,64.52 600.5,64.1 C599.93,63.68 598.63,59.58 598.8,58.5Z"/></g>
<g clip-path="url(#sDr)"><g filter="url(#b3)"><circle cx="606.73" cy="113.98" r="1.23" fill="#ff1010"/><circle cx="554.43" cy="86.92" r="2.99" fill="#c80000"/><circle cx="572.44" cy="112.74" r="2.87" fill="#ff2020"/><circle cx="583.73" cy="63.93" r="2.14" fill="#c80000"/><circle cx="557.69" cy="106.67" r="2.12" fill="#ff2020"/><circle cx="590.79" cy="69.58" r="2.82" fill="#ff1010"/><circle cx="572.86" cy="65.02" r="2.91" fill="#ff1010"/><circle cx="573.51" cy="100.81" r="1.95" fill="#ff1010"/><circle cx="568.33" cy="107.93" r="1.2" fill="#c80000"/><circle cx="598.67" cy="62.56" r="2.87" fill="#ff2020"/><circle cx="602.29" cy="73.26" r="1.87" fill="#ff1010"/><circle cx="572.63" cy="109.81" r="1.34" fill="#ff1010"/><circle cx="593.83" cy="108.82" r="1.71" fill="#ff2020"/><circle cx="598.41" cy="72.99" r="2.88" fill="#ff3a3a"/><circle cx="606.32" cy="82.48" r="1.77" fill="#c80000"/><circle cx="595.54" cy="81.95" r="1.25" fill="#ff1010"/><circle cx="602.98" cy="114.26" r="2.19" fill="#ff2020"/><circle cx="552.87" cy="101.14" r="2.01" fill="#ff3a3a"/><circle cx="587.38" cy="73.03" r="1.29" fill="#ff3a3a"/><circle cx="559.9" cy="81.14" r="1.71" fill="#c80000"/><circle cx="592.86" cy="116.51" r="1.67" fill="#ff3a3a"/><circle cx="567.45" cy="90.11" r="1.91" fill="#ff3a3a"/><circle cx="587.31" cy="59.74" r="2.1" fill="#ff1010"/><circle cx="581.92" cy="83.54" r="1.8" fill="#ff1010"/><circle cx="574.79" cy="89.51" r="1.64" fill="#ff3a3a"/><circle cx="569.83" cy="60.74" r="1.63" fill="#c80000"/><circle cx="596.94" cy="67.73" r="1.24" fill="#ff1010"/><circle cx="572.2" cy="101.99" r="1.58" fill="#c80000"/><circle cx="569.62" cy="58.91" r="1.7" fill="#c80000"/><circle cx="557.3" cy="86.71" r="2.33" fill="#ff3a3a"/><circle cx="555.37" cy="111.5" r="1.89" fill="#ff1010"/><circle cx="575.05" cy="74.66" r="2.67" fill="#ff2020"/><circle cx="557.38" cy="81.79" r="2.57" fill="#ff1010"/><circle cx="606.16" cy="85.86" r="1.33" fill="#ff1010"/><circle cx="606.39" cy="70.65" r="1.4" fill="#ff3a3a"/><circle cx="558.82" cy="116.23" r="1.4" fill="#ff1010"/><circle cx="554.93" cy="103.94" r="1.2" fill="#ff3a3a"/><circle cx="563.49" cy="112.95" r="2.36" fill="#c80000"/><circle cx="605.82" cy="94.47" r="2.15" fill="#ff1010"/><circle cx="590.52" cy="62.06" r="1.33" fill="#ff3a3a"/><circle cx="572.51" cy="69.09" r="2.28" fill="#ff2020"/><circle cx="581.17" cy="117.77" r="1.7" fill="#c80000"/><circle cx="587.39" cy="110.68" r="2.06" fill="#ff3a3a"/><circle cx="581.73" cy="56.84" r="1.94" fill="#c80000"/><circle cx="553.21" cy="67.23" r="2.79" fill="#ff1010"/><circle cx="554.7" cy="69.35" r="1.96" fill="#c80000"/><circle cx="563.15" cy="57.15" r="1.81" fill="#ff1010"/><circle cx="571.01" cy="79.97" r="1.21" fill="#c80000"/><circle cx="592.87" cy="86.81" r="1.57" fill="#ff3a3a"/><circle cx="568.08" cy="106.66" r="1.62" fill="#ff3a3a"/><circle cx="565.37" cy="111.03" r="1.4" fill="#ff1010"/><circle cx="585.39" cy="111.48" r="2.07" fill="#ff2020"/><circle cx="605.03" cy="64.22" r="1.91" fill="#ff3a3a"/><circle cx="551.37" cy="92.56" r="1.95" fill="#ff2020"/><circle cx="560.68" cy="83.33" r="2.48" fill="#c80000"/><circle cx="592.5" cy="117.84" r="2.88" fill="#c80000"/><circle cx="561.06" cy="96.11" r="2.14" fill="#ff1010"/><circle cx="551.85" cy="96.86" r="1.88" fill="#c80000"/><circle cx="607.13" cy="82.87" r="1.4" fill="#ff2020"/><circle cx="566.23" cy="77.14" r="2.92" fill="#ff2020"/><circle cx="582.55" cy="102.8" r="1.88" fill="#c80000"/><circle cx="597.68" cy="82.24" r="1.29" fill="#ff1010"/><circle cx="561.35" cy="89.12" r="2" fill="#c80000"/><circle cx="571.13" cy="111.51" r="1.25" fill="#ff1010"/><circle cx="564.38" cy="94.4" r="1.93" fill="#ff1010"/><circle cx="552.02" cy="58.94" r="2.86" fill="#c80000"/><circle cx="561.31" cy="58.96" r="2.29" fill="#c80000"/><circle cx="565.79" cy="115.33" r="2.31" fill="#c80000"/><circle cx="593.29" cy="98.44" r="2.86" fill="#c80000"/><circle cx="550.22" cy="102.61" r="2.85" fill="#ff2020"/><circle cx="551.41" cy="69.73" r="2.06" fill="#ff1010"/><circle cx="605.33" cy="79.35" r="1.65" fill="#ff1010"/><circle cx="597.26" cy="63.36" r="2.09" fill="#ff2020"/><circle cx="596.55" cy="101.52" r="2.68" fill="#ff3a3a"/><circle cx="585.22" cy="75.65" r="1.78" fill="#c80000"/><circle cx="595.46" cy="92.53" r="2.12" fill="#ff1010"/><circle cx="593.67" cy="70.58" r="1.32" fill="#ff2020"/><circle cx="577.94" cy="89.31" r="1.49" fill="#ff1010"/><circle cx="601.24" cy="117.23" r="1.68" fill="#ff2020"/><circle cx="562.08" cy="81.53" r="2.98" fill="#ff1010"/><circle cx="560.05" cy="63.37" r="2.03" fill="#ff3a3a"/><circle cx="593.38" cy="108.36" r="2.4" fill="#ff2020"/><circle cx="595.23" cy="73.52" r="1.7" fill="#c80000"/><circle cx="571.63" cy="101.5" r="1.56" fill="#ff3a3a"/><circle cx="560.77" cy="69.84" r="1.71" fill="#ff3a3a"/><circle cx="568.93" cy="79.95" r="2.99" fill="#ff3a3a"/><circle cx="587.68" cy="61.33" r="2.04" fill="#ff2020"/><circle cx="555.94" cy="84.91" r="2.67" fill="#ff1010"/><circle cx="603.03" cy="57.54" r="1.73" fill="#ff2020"/><circle cx="552.92" cy="92.83" r="2.69" fill="#ff3a3a"/></g></g>
</g>
<clipPath id="sE"><path d="M582.7,185.8 C584.82,186.38 587.48,188.98 589.6,191 C591.72,193.02 593.67,195.6 595.4,197.9 C597.13,200.2 598.85,202.3 600,204.8 C601.15,207.3 601.82,210.78 602.3,212.9 C602.78,215.02 602.13,215.18 602.9,217.5 C603.67,219.82 606.13,223.92 606.9,226.8 C607.67,229.68 607.6,232.5 607.5,234.8 C607.4,237.1 607.35,238.67 606.3,240.6 C605.25,242.53 603.22,245.43 601.2,246.4 C599.18,247.37 596.13,245.45 594.2,246.4 C592.27,247.35 590.37,249.98 589.6,252.1 C588.83,254.22 590.37,257.17 589.6,259.1 C588.83,261.03 585.97,261.78 585,263.7 C584.03,265.62 584.38,268.3 583.8,270.6 C583.22,272.9 582.83,276.15 581.5,277.5 C580.17,278.85 577.13,279.85 575.8,278.7 C574.47,277.55 574.67,272.53 573.5,270.6 C572.33,268.67 570.15,268.63 568.8,267.1 C567.45,265.57 566.35,264.28 565.4,261.4 C564.45,258.52 564.45,253.65 563.1,249.8 C561.75,245.95 559.23,240.8 557.3,238.3 C555.37,235.8 553.23,236.15 551.5,234.8 C549.77,233.45 548.05,232.12 546.9,230.2 C545.75,228.28 544.6,225.8 544.6,223.3 C544.6,220.8 545.75,217.5 546.9,215.2 C548.05,212.9 550.15,211.42 551.5,209.5 C552.85,207.58 553.83,205.63 555,203.7 C556.17,201.77 557.15,199.63 558.5,197.9 C559.85,196.17 561.18,194.65 563.1,193.3 C565.02,191.95 567.7,190.77 570,189.8 C572.3,188.83 574.78,188.17 576.9,187.5 C579.02,186.83 580.58,185.22 582.7,185.8Z"/></clipPath>
<g clip-path="url(#sE)">
<path d="M582.7,185.8 C584.82,186.38 587.48,188.98 589.6,191 C591.72,193.02 593.67,195.6 595.4,197.9 C597.13,200.2 598.85,202.3 600,204.8 C601.15,207.3 601.82,210.78 602.3,212.9 C602.78,215.02 602.13,215.18 602.9,217.5 C603.67,219.82 606.13,223.92 606.9,226.8 C607.67,229.68 607.6,232.5 607.5,234.8 C607.4,237.1 607.35,238.67 606.3,240.6 C605.25,242.53 603.22,245.43 601.2,246.4 C599.18,247.37 596.13,245.45 594.2,246.4 C592.27,247.35 590.37,249.98 589.6,252.1 C588.83,254.22 590.37,257.17 589.6,259.1 C588.83,261.03 585.97,261.78 585,263.7 C584.03,265.62 584.38,268.3 583.8,270.6 C583.22,272.9 582.83,276.15 581.5,277.5 C580.17,278.85 577.13,279.85 575.8,278.7 C574.47,277.55 574.67,272.53 573.5,270.6 C572.33,268.67 570.15,268.63 568.8,267.1 C567.45,265.57 566.35,264.28 565.4,261.4 C564.45,258.52 564.45,253.65 563.1,249.8 C561.75,245.95 559.23,240.8 557.3,238.3 C555.37,235.8 553.23,236.15 551.5,234.8 C549.77,233.45 548.05,232.12 546.9,230.2 C545.75,228.28 544.6,225.8 544.6,223.3 C544.6,220.8 545.75,217.5 546.9,215.2 C548.05,212.9 550.15,211.42 551.5,209.5 C552.85,207.58 553.83,205.63 555,203.7 C556.17,201.77 557.15,199.63 558.5,197.9 C559.85,196.17 561.18,194.65 563.1,193.3 C565.02,191.95 567.7,190.77 570,189.8 C572.3,188.83 574.78,188.17 576.9,187.5 C579.02,186.83 580.58,185.22 582.7,185.8Z" fill="#a4a4a4"/>
<g filter="url(#b3)"><circle cx="551.84" cy="216.9" r="1.55" fill="#8c8c8c"/><circle cx="566.49" cy="268.88" r="2.19" fill="#d2d2d2"/><circle cx="591.44" cy="228.87" r="1.76" fill="#c8c8c8"/><circle cx="565.16" cy="206.02" r="2.07" fill="#8c8c8c"/><circle cx="567.62" cy="211.77" r="1.76" fill="#bcbcbc"/><circle cx="604.1" cy="248.91" r="1.24" fill="#8c8c8c"/><circle cx="589.46" cy="211.19" r="2.11" fill="#989898"/><circle cx="587.24" cy="191.67" r="1.5" fill="#d8d8d8"/><circle cx="573.35" cy="251.53" r="3.1" fill="#d8d8d8"/><circle cx="581.44" cy="219.45" r="3.11" fill="#8c8c8c"/><circle cx="589.34" cy="186.71" r="2.7" fill="#989898"/><circle cx="557.52" cy="188.97" r="2.44" fill="#8c8c8c"/><circle cx="568.83" cy="234.47" r="1.78" fill="#c8c8c8"/><circle cx="592.8" cy="242.23" r="1.97" fill="#989898"/><circle cx="604.45" cy="212.15" r="1.47" fill="#c8c8c8"/><circle cx="576.42" cy="276.96" r="1.64" fill="#989898"/><circle cx="574.33" cy="247.91" r="1.24" fill="#c8c8c8"/><circle cx="603.45" cy="249.39" r="3.03" fill="#d2d2d2"/><circle cx="576.72" cy="190.81" r="1.57" fill="#c8c8c8"/><circle cx="599.28" cy="252.64" r="2.58" fill="#8c8c8c"/><circle cx="605.75" cy="199.2" r="3.11" fill="#8c8c8c"/><circle cx="570.41" cy="254.93" r="1.85" fill="#bcbcbc"/><circle cx="553.26" cy="277.35" r="2.66" fill="#989898"/><circle cx="547.4" cy="211.73" r="2.45" fill="#d2d2d2"/><circle cx="574.24" cy="261.58" r="1.93" fill="#d8d8d8"/><circle cx="590.47" cy="265.85" r="2.88" fill="#989898"/><circle cx="560.34" cy="236" r="1.67" fill="#c8c8c8"/><circle cx="570.89" cy="201.67" r="1.94" fill="#c8c8c8"/><circle cx="592.28" cy="213.4" r="1.39" fill="#d8d8d8"/><circle cx="552.59" cy="237.73" r="3.2" fill="#d8d8d8"/><circle cx="584.59" cy="202.87" r="2.09" fill="#8c8c8c"/><circle cx="556.93" cy="260.07" r="2.15" fill="#d2d2d2"/><circle cx="557.33" cy="266.5" r="2.01" fill="#d8d8d8"/><circle cx="599.67" cy="206.7" r="2.72" fill="#bcbcbc"/><circle cx="601.65" cy="233.84" r="2.99" fill="#d2d2d2"/><circle cx="566.37" cy="194.8" r="2.55" fill="#d2d2d2"/><circle cx="555.45" cy="194.96" r="2.64" fill="#8c8c8c"/><circle cx="562.68" cy="208.62" r="2.08" fill="#c8c8c8"/><circle cx="593.79" cy="248.81" r="2.83" fill="#d8d8d8"/><circle cx="599.94" cy="226.13" r="1.44" fill="#d2d2d2"/><circle cx="601.28" cy="236.05" r="1.4" fill="#c8c8c8"/><circle cx="558.65" cy="240.36" r="1.81" fill="#d8d8d8"/><circle cx="599.55" cy="277.41" r="2.39" fill="#bcbcbc"/><circle cx="571.13" cy="276.76" r="1.4" fill="#bcbcbc"/><circle cx="585.88" cy="209.29" r="1.31" fill="#8c8c8c"/><circle cx="581.38" cy="255.02" r="2.69" fill="#d2d2d2"/><circle cx="563.17" cy="245.3" r="1.89" fill="#d8d8d8"/><circle cx="562.1" cy="227.48" r="2.42" fill="#989898"/><circle cx="556.38" cy="240.99" r="1.85" fill="#8c8c8c"/><circle cx="585.03" cy="202.02" r="1.53" fill="#bcbcbc"/><circle cx="550.03" cy="193.28" r="2.52" fill="#c8c8c8"/><circle cx="574.31" cy="198.32" r="2.89" fill="#bcbcbc"/><circle cx="560.62" cy="186.6" r="2.43" fill="#d2d2d2"/><circle cx="548.51" cy="247.99" r="2.75" fill="#989898"/><circle cx="569.19" cy="215.53" r="3.07" fill="#d2d2d2"/><circle cx="573.98" cy="207.96" r="1.51" fill="#bcbcbc"/><circle cx="548.29" cy="250.89" r="1.77" fill="#d2d2d2"/><circle cx="557.1" cy="212.46" r="2.14" fill="#d2d2d2"/><circle cx="595.49" cy="263.66" r="2.63" fill="#d2d2d2"/><circle cx="591" cy="242.68" r="2.5" fill="#d8d8d8"/><circle cx="573.66" cy="216.71" r="2.88" fill="#d2d2d2"/><circle cx="562.4" cy="218.79" r="2.36" fill="#989898"/><circle cx="573.76" cy="203.2" r="1.84" fill="#d8d8d8"/><circle cx="570.32" cy="233.08" r="1.63" fill="#c8c8c8"/><circle cx="596.79" cy="262.14" r="1.9" fill="#d2d2d2"/><circle cx="559.56" cy="214.96" r="1.47" fill="#d2d2d2"/><circle cx="595.54" cy="273.66" r="2.93" fill="#989898"/><circle cx="572.96" cy="217.86" r="2.29" fill="#bcbcbc"/><circle cx="581.25" cy="245.96" r="2.85" fill="#c8c8c8"/><circle cx="590.05" cy="256.4" r="2.47" fill="#8c8c8c"/><circle cx="601.89" cy="186.76" r="2.14" fill="#d2d2d2"/><circle cx="558.24" cy="189.17" r="3" fill="#989898"/><circle cx="550.87" cy="272.85" r="1.63" fill="#bcbcbc"/><circle cx="573.46" cy="205.16" r="2.81" fill="#bcbcbc"/><circle cx="553.57" cy="262.71" r="1.57" fill="#d8d8d8"/><circle cx="602.37" cy="260.76" r="2.93" fill="#c8c8c8"/><circle cx="585.98" cy="250.85" r="2.64" fill="#989898"/><circle cx="550.74" cy="197.59" r="1.48" fill="#bcbcbc"/><circle cx="605.16" cy="243.51" r="2.72" fill="#c8c8c8"/><circle cx="571.44" cy="241.7" r="3.04" fill="#989898"/><circle cx="554.82" cy="226.1" r="1.25" fill="#d2d2d2"/><circle cx="545.15" cy="276.3" r="2.58" fill="#c8c8c8"/><circle cx="595.42" cy="218.98" r="3.11" fill="#d2d2d2"/><circle cx="594.05" cy="250.73" r="2.47" fill="#c8c8c8"/><circle cx="600.28" cy="275.14" r="2.95" fill="#8c8c8c"/><circle cx="596.6" cy="200.56" r="2.66" fill="#989898"/><circle cx="555.73" cy="212.56" r="2.71" fill="#bcbcbc"/><circle cx="569.18" cy="269.15" r="3" fill="#989898"/><circle cx="577.16" cy="240.7" r="1.84" fill="#8c8c8c"/><circle cx="592.3" cy="251.08" r="2.15" fill="#d2d2d2"/><circle cx="563.93" cy="265.27" r="3.12" fill="#989898"/><circle cx="567" cy="196.52" r="1.34" fill="#d2d2d2"/><circle cx="584.4" cy="199.57" r="1.22" fill="#8c8c8c"/><circle cx="557.23" cy="264.51" r="1.87" fill="#989898"/><circle cx="548.51" cy="242.63" r="1.47" fill="#d8d8d8"/><circle cx="591.81" cy="239.11" r="2.88" fill="#d8d8d8"/><circle cx="571.73" cy="215.64" r="1.47" fill="#c8c8c8"/><circle cx="558.03" cy="209.78" r="1.51" fill="#d8d8d8"/><circle cx="551.54" cy="276.1" r="2.79" fill="#989898"/><circle cx="570.31" cy="201.25" r="2.74" fill="#d8d8d8"/><circle cx="563.82" cy="260.69" r="1.96" fill="#bcbcbc"/><circle cx="574.36" cy="193.89" r="2.53" fill="#bcbcbc"/><circle cx="599.67" cy="245.91" r="1.95" fill="#bcbcbc"/><circle cx="598.19" cy="249.9" r="1.75" fill="#d8d8d8"/><circle cx="607.97" cy="256.64" r="2.92" fill="#989898"/><circle cx="604.32" cy="221.51" r="2.83" fill="#bcbcbc"/><circle cx="606.48" cy="227.89" r="1.57" fill="#8c8c8c"/><circle cx="593.73" cy="228.12" r="1.9" fill="#8c8c8c"/><circle cx="547.45" cy="199.87" r="1.59" fill="#989898"/><circle cx="547.27" cy="233.38" r="2.79" fill="#989898"/><circle cx="598.73" cy="222.28" r="3.05" fill="#d2d2d2"/><circle cx="583.59" cy="202.26" r="2.34" fill="#d8d8d8"/><circle cx="599.8" cy="197.25" r="1.62" fill="#989898"/><circle cx="561.09" cy="224.15" r="2.67" fill="#bcbcbc"/><circle cx="573.87" cy="194.05" r="2.15" fill="#c8c8c8"/><circle cx="548.61" cy="192.51" r="2.61" fill="#c8c8c8"/><circle cx="583.88" cy="208.81" r="1.71" fill="#d2d2d2"/><circle cx="579.59" cy="252.39" r="1.94" fill="#d2d2d2"/><circle cx="598.21" cy="189.98" r="1.4" fill="#d8d8d8"/><circle cx="585.17" cy="228.35" r="1.82" fill="#8c8c8c"/><circle cx="590.12" cy="242.5" r="2.5" fill="#8c8c8c"/><circle cx="599.25" cy="186.95" r="2.28" fill="#d2d2d2"/><circle cx="587.51" cy="202.82" r="2.6" fill="#bcbcbc"/><circle cx="552.56" cy="226.19" r="1.71" fill="#d2d2d2"/><circle cx="578.37" cy="199.21" r="3.02" fill="#989898"/><circle cx="597.54" cy="274.75" r="1.74" fill="#8c8c8c"/><circle cx="604.52" cy="256.77" r="2.69" fill="#d2d2d2"/><circle cx="558.92" cy="215.88" r="2.5" fill="#d2d2d2"/><circle cx="572.88" cy="184.33" r="2.44" fill="#d8d8d8"/><circle cx="603.3" cy="249.82" r="1.41" fill="#8c8c8c"/><circle cx="598.85" cy="226.48" r="2.51" fill="#989898"/><circle cx="580.96" cy="271.6" r="3.15" fill="#989898"/><circle cx="580.1" cy="251.69" r="1.5" fill="#d2d2d2"/><circle cx="561.01" cy="206.79" r="1.63" fill="#d8d8d8"/><circle cx="597.74" cy="264.11" r="2.11" fill="#bcbcbc"/><circle cx="556.27" cy="250.78" r="1.78" fill="#d2d2d2"/><circle cx="580.84" cy="238.15" r="1.8" fill="#989898"/><circle cx="603.65" cy="209.59" r="2.48" fill="#c8c8c8"/><circle cx="567.26" cy="246.26" r="1.91" fill="#c8c8c8"/><circle cx="546.66" cy="217.71" r="1.73" fill="#d2d2d2"/></g>
<clipPath id="sEr"><path d="M575.1,234 C575.88,232.6 578.2,232.57 580.7,232.1 C583.2,231.63 587.6,231.52 590.1,231.2 C592.6,230.88 594.3,229.73 595.7,230.2 C597.1,230.67 597.1,233.22 598.5,234 C599.9,234.78 602.7,234.43 604.1,234.9 C605.5,235.37 606.58,235.55 606.9,236.8 C607.22,238.05 606.93,240.85 606,242.4 C605.07,243.95 603.02,245.63 601.3,246.1 C599.58,246.57 597.27,245.5 595.7,245.2 C594.13,244.9 593,243.68 591.9,244.3 C590.8,244.92 589.4,247.03 589.1,248.9 C588.8,250.77 590.25,253.63 590.1,255.5 C589.95,257.37 589.62,258.85 588.2,260.1 C586.78,261.35 583.78,262.52 581.6,263 C579.42,263.48 576.8,263.95 575.1,263 C573.4,262.05 572.8,259.18 571.4,257.3 C570,255.42 568.1,253.4 566.7,251.7 C565.3,250 563.47,248.33 563,247.1 C562.53,245.87 562.82,244.62 563.9,244.3 C564.98,243.98 567.63,245.2 569.5,245.2 C571.37,245.2 574.02,245.08 575.1,244.3 C576.18,243.52 576,242.22 576,240.5 C576,238.78 574.32,235.4 575.1,234Z"/><path d="M554.5,213 C555,211.75 556.75,211.5 558,211.5 C559.25,211.5 561.5,211.92 562,213 C562.5,214.08 561,216.22 561,218 C561,219.78 562.5,222.7 562,223.7 C561.5,224.7 559.17,224.78 558,224 C556.83,223.22 555.58,220.83 555,219 C554.42,217.17 554,214.25 554.5,213Z"/><path d="M598.8,211.5 C598.97,210.42 600.93,210.18 601.5,210.6 C602.07,211.02 602.37,212.92 602.2,214 C602.03,215.08 601.07,217.52 600.5,217.1 C599.93,216.68 598.63,212.58 598.8,211.5Z"/></clipPath>
<g fill="#e60000"><path d="M575.1,234 C575.88,232.6 578.2,232.57 580.7,232.1 C583.2,231.63 587.6,231.52 590.1,231.2 C592.6,230.88 594.3,229.73 595.7,230.2 C597.1,230.67 597.1,233.22 598.5,234 C599.9,234.78 602.7,234.43 604.1,234.9 C605.5,235.37 606.58,235.55 606.9,236.8 C607.22,238.05 606.93,240.85 606,242.4 C605.07,243.95 603.02,245.63 601.3,246.1 C599.58,246.57 597.27,245.5 595.7,245.2 C594.13,244.9 593,243.68 591.9,244.3 C590.8,244.92 589.4,247.03 589.1,248.9 C588.8,250.77 590.25,253.63 590.1,255.5 C589.95,257.37 589.62,258.85 588.2,260.1 C586.78,261.35 583.78,262.52 581.6,263 C579.42,263.48 576.8,263.95 575.1,263 C573.4,262.05 572.8,259.18 571.4,257.3 C570,255.42 568.1,253.4 566.7,251.7 C565.3,250 563.47,248.33 563,247.1 C562.53,245.87 562.82,244.62 563.9,244.3 C564.98,243.98 567.63,245.2 569.5,245.2 C571.37,245.2 574.02,245.08 575.1,244.3 C576.18,243.52 576,242.22 576,240.5 C576,238.78 574.32,235.4 575.1,234Z"/><path d="M554.5,213 C555,211.75 556.75,211.5 558,211.5 C559.25,211.5 561.5,211.92 562,213 C562.5,214.08 561,216.22 561,218 C561,219.78 562.5,222.7 562,223.7 C561.5,224.7 559.17,224.78 558,224 C556.83,223.22 555.58,220.83 555,219 C554.42,217.17 554,214.25 554.5,213Z"/><path d="M598.8,211.5 C598.97,210.42 600.93,210.18 601.5,210.6 C602.07,211.02 602.37,212.92 602.2,214 C602.03,215.08 601.07,217.52 600.5,217.1 C599.93,216.68 598.63,212.58 598.8,211.5Z"/></g>
<g clip-path="url(#sEr)"><g filter="url(#b3)"><circle cx="556.05" cy="238.97" r="1.53" fill="#ff2020"/><circle cx="560.66" cy="233.19" r="1.43" fill="#ff2020"/><circle cx="598.52" cy="264.04" r="2.29" fill="#ff2020"/><circle cx="576.27" cy="217.8" r="2.62" fill="#ff1010"/><circle cx="550.79" cy="263.52" r="1.52" fill="#c80000"/><circle cx="558.04" cy="270.56" r="1.69" fill="#ff2020"/><circle cx="602.42" cy="216.79" r="2.96" fill="#ff1010"/><circle cx="590.5" cy="241.35" r="2.64" fill="#ff1010"/><circle cx="601.6" cy="247.93" r="1.51" fill="#ff2020"/><circle cx="564.8" cy="258.84" r="1.94" fill="#ff2020"/><circle cx="555.81" cy="267.97" r="1.23" fill="#ff2020"/><circle cx="581.2" cy="220.58" r="1.86" fill="#ff2020"/><circle cx="563.39" cy="223.62" r="2.98" fill="#ff2020"/><circle cx="572.06" cy="231.05" r="2.82" fill="#ff2020"/><circle cx="565.36" cy="211.36" r="1.38" fill="#ff3a3a"/><circle cx="576.72" cy="269.89" r="2.91" fill="#ff2020"/><circle cx="558.1" cy="261.28" r="2.13" fill="#c80000"/><circle cx="557.47" cy="260.7" r="2.78" fill="#ff1010"/><circle cx="584.64" cy="242.1" r="2.5" fill="#c80000"/><circle cx="560.04" cy="237.79" r="2.57" fill="#ff1010"/><circle cx="592.15" cy="261.95" r="1.74" fill="#ff3a3a"/><circle cx="559.57" cy="253.98" r="2.51" fill="#ff3a3a"/><circle cx="599.89" cy="263.98" r="1.96" fill="#ff2020"/><circle cx="589.37" cy="264.37" r="1.32" fill="#ff3a3a"/><circle cx="553.81" cy="218.49" r="1.49" fill="#ff1010"/><circle cx="550.98" cy="246.12" r="2.48" fill="#c80000"/><circle cx="572.4" cy="223.87" r="1.83" fill="#ff2020"/><circle cx="600.8" cy="212.53" r="2.12" fill="#ff3a3a"/><circle cx="586.51" cy="246.72" r="1.77" fill="#ff1010"/><circle cx="570.7" cy="265.96" r="1.57" fill="#ff2020"/><circle cx="562" cy="233.93" r="2.47" fill="#c80000"/><circle cx="602.3" cy="227.4" r="2.68" fill="#ff1010"/><circle cx="563.5" cy="223.81" r="2.93" fill="#ff1010"/><circle cx="564.24" cy="219.04" r="1.98" fill="#ff3a3a"/><circle cx="572.72" cy="212.04" r="1.43" fill="#ff3a3a"/><circle cx="603.72" cy="246.19" r="1.69" fill="#c80000"/><circle cx="577.3" cy="209" r="1.64" fill="#ff2020"/><circle cx="566.78" cy="214.35" r="1.4" fill="#ff2020"/><circle cx="554.86" cy="266.35" r="1.76" fill="#ff2020"/><circle cx="577.35" cy="264.49" r="2.65" fill="#c80000"/><circle cx="556.12" cy="216.91" r="1.79" fill="#ff1010"/><circle cx="553.85" cy="235.65" r="2.88" fill="#ff2020"/><circle cx="559.89" cy="252.64" r="2.75" fill="#ff1010"/><circle cx="582.53" cy="238.97" r="2.16" fill="#ff2020"/><circle cx="571.17" cy="232.95" r="1.84" fill="#ff1010"/><circle cx="601.65" cy="210.35" r="2.88" fill="#ff3a3a"/><circle cx="551.93" cy="246.87" r="2.06" fill="#ff1010"/><circle cx="587.99" cy="257.96" r="1.28" fill="#c80000"/><circle cx="557.41" cy="255.38" r="2.88" fill="#c80000"/><circle cx="584.86" cy="209.63" r="2.49" fill="#ff3a3a"/><circle cx="558.82" cy="223.58" r="1.72" fill="#ff2020"/><circle cx="595.24" cy="260.39" r="1.86" fill="#ff2020"/><circle cx="585.86" cy="261.27" r="1.34" fill="#ff1010"/><circle cx="583.5" cy="231.24" r="2.57" fill="#ff1010"/><circle cx="600.59" cy="230.51" r="1.98" fill="#ff1010"/><circle cx="604.22" cy="269.21" r="2.09" fill="#ff3a3a"/><circle cx="553.4" cy="238.92" r="2.3" fill="#ff1010"/><circle cx="596.96" cy="230.52" r="2.52" fill="#ff3a3a"/><circle cx="577.85" cy="238.73" r="2.34" fill="#c80000"/><circle cx="578.05" cy="244.91" r="2.42" fill="#c80000"/><circle cx="554.18" cy="222.3" r="1.36" fill="#ff3a3a"/><circle cx="593.74" cy="247.12" r="1.91" fill="#ff3a3a"/><circle cx="550.65" cy="264.64" r="2.94" fill="#ff1010"/><circle cx="561.6" cy="229.87" r="1.34" fill="#ff3a3a"/><circle cx="564.17" cy="223.36" r="2.6" fill="#ff1010"/><circle cx="603.19" cy="235.76" r="2.95" fill="#ff2020"/><circle cx="573.3" cy="254.16" r="1.94" fill="#c80000"/><circle cx="578.98" cy="232.49" r="2.59" fill="#ff2020"/><circle cx="588.43" cy="261.82" r="1.84" fill="#c80000"/><circle cx="563.32" cy="268.84" r="2.1" fill="#ff3a3a"/><circle cx="557.25" cy="240.69" r="2.17" fill="#ff1010"/><circle cx="600.74" cy="247.18" r="1.76" fill="#ff3a3a"/><circle cx="605.18" cy="234.47" r="2.9" fill="#ff2020"/><circle cx="585.55" cy="233.52" r="2.62" fill="#ff1010"/><circle cx="577.61" cy="266.7" r="1.51" fill="#ff3a3a"/><circle cx="555.19" cy="254.69" r="2.99" fill="#ff1010"/><circle cx="588.12" cy="220.31" r="2.64" fill="#ff3a3a"/><circle cx="552.31" cy="226.1" r="1.54" fill="#ff3a3a"/><circle cx="568.44" cy="212.08" r="1.31" fill="#ff3a3a"/><circle cx="603.42" cy="250.72" r="2.05" fill="#ff2020"/><circle cx="563.4" cy="230.24" r="2.58" fill="#ff1010"/><circle cx="604.85" cy="226.58" r="2.01" fill="#c80000"/><circle cx="573.52" cy="258.01" r="1.27" fill="#ff2020"/><circle cx="604.54" cy="228.29" r="1.53" fill="#ff2020"/><circle cx="571.92" cy="262.47" r="1.45" fill="#ff3a3a"/><circle cx="597.8" cy="260.64" r="2.87" fill="#ff1010"/><circle cx="598.83" cy="223.22" r="1.46" fill="#c80000"/><circle cx="569.9" cy="256.93" r="2.96" fill="#ff1010"/><circle cx="581.3" cy="261.55" r="2.4" fill="#ff2020"/><circle cx="550.32" cy="248.05" r="1.77" fill="#ff3a3a"/></g></g>
</g>
<g transform="translate(0 0)"><path d="M628,40.5 C631,39.5 634,39.5 636,38.5 C637,34 640,31 646,30.8 C650,31 652,33 653,35.4" stroke="#8f8f8f" stroke-width="0.9" fill="none"/><path d="M631,52.7 C626,52 621,53 618,56 C614,60 614,65 617,68.5 C618.5,70.5 620,71 621,71.2" stroke="#8f8f8f" stroke-width="0.9" fill="none"/><path d="M668,77 C666,80 663.4,80.4 660,82 C655,84.5 650,86.5 645,88 C640,89.2 637,90.5 636.8,93 C637,95 639,96 641,95.4" stroke="#8f8f8f" stroke-width="0.9" fill="none"/><path d="M633,46 C632,49 631,51 631,52.7" stroke="#8f8f8f" stroke-width="0.9" fill="none"/><path d="M614.5,45.5 C613.5,39.5 618,35.8 624,36.3 C627,36.6 629,38 629,40.2 L626.5,41.2 C625.5,39.6 623.5,39.2 621.5,39.5 C618.5,40 617,42.5 617.3,45.5 Z" fill="#8a8a8a"/><path d="M625.5,60.5 C624,62.5 624,67 626,68.8 L667,78.6 C669.5,79 671,75 669.8,72.5 C669,71 668,70.7 667.5,70.6 L627.5,60.8 Z" fill="#bdbdbd"/><path d="M626.5,62.6 L668.5,72.6 L668.2,74.3 L626.2,64.3 Z" fill="#ececec"/><path d="M626,67.2 L667.5,77.2 L667.2,78.5 L626,68.6 Z" fill="#8e8e8e"/><path d="M651.8,35.2 L656.8,36.2 L666,77.5 L661,78 Z" fill="#b3b3b3"/><path d="M653.5,36 L655.2,36.4 L663.5,77.4 L662,77.6 Z" fill="#d8d8d8"/><path d="M658,51 L661.5,50.5 L678.2,70.5 L674.5,75 Z" fill="#8c8c8c"/><path d="M658,51 L661.5,50.5 L670,60.5 L666,62.5 Z" fill="#d40000"/><path d="M632,58.3 L637.2,58.8 L644,94.5 L641.8,95 Z" fill="#a2a2a2"/><path d="M636.2,75.8 L640,75.6 L644,94.5 L641.8,95 Z" fill="#d00000"/><path d="M648.2,35.2 L654.4,36.4 L652,62 L644.3,96 L642.3,95.6 L645.6,61.5 Z" fill="#dedede" stroke="#9a9a9a" stroke-width="0.5"/><path d="M645.6,61.5 L652,62 L644.3,96 L642.3,95.6 Z" fill="#ee0000"/><path d="M667.5,78.5 C669,83.5 674,83.5 676.5,76.5" stroke="#e00000" stroke-width="1" fill="none"/><path d="M619.5,64.5 L624,61.5 L625,66.5 Z" fill="#d00000"/><path d="M624.5,57 C625.5,59 625,61 623.5,62.5" stroke="#d00000" stroke-width="0.9" fill="none"/><path d="M641.6,97.5 C640.5,100 641,101.5 643,102.8 C645.8,104.5 645.5,105.5 643,107.5 C640,109.5 639.3,111.5 639.6,113.5" stroke="#d00000" stroke-width="1.1" fill="none"/><path d="M639.6,113.5 C640,117 641,119.5 646.6,123.2" stroke="#999" stroke-width="1.1" fill="none"/></g>
<g transform="translate(0 156)"><path d="M628,40.5 C631,39.5 634,39.5 636,38.5 C637,34 640,31 646,30.8 C650,31 652,33 653,35.4" stroke="#8f8f8f" stroke-width="0.9" fill="none"/><path d="M631,52.7 C626,52 621,53 618,56 C614,60 614,65 617,68.5 C618.5,70.5 620,71 621,71.2" stroke="#8f8f8f" stroke-width="0.9" fill="none"/><path d="M668,77 C666,80 663.4,80.4 660,82 C655,84.5 650,86.5 645,88 C640,89.2 637,90.5 636.8,93 C637,95 639,96 641,95.4" stroke="#8f8f8f" stroke-width="0.9" fill="none"/><path d="M633,46 C632,49 631,51 631,52.7" stroke="#8f8f8f" stroke-width="0.9" fill="none"/><path d="M614.5,45.5 C613.5,39.5 618,35.8 624,36.3 C627,36.6 629,38 629,40.2 L626.5,41.2 C625.5,39.6 623.5,39.2 621.5,39.5 C618.5,40 617,42.5 617.3,45.5 Z" fill="#8a8a8a"/><path d="M625.5,60.5 C624,62.5 624,67 626,68.8 L667,78.6 C669.5,79 671,75 669.8,72.5 C669,71 668,70.7 667.5,70.6 L627.5,60.8 Z" fill="#bdbdbd"/><path d="M626.5,62.6 L668.5,72.6 L668.2,74.3 L626.2,64.3 Z" fill="#ececec"/><path d="M626,67.2 L667.5,77.2 L667.2,78.5 L626,68.6 Z" fill="#8e8e8e"/><path d="M651.8,35.2 L656.8,36.2 L666,77.5 L661,78 Z" fill="#b3b3b3"/><path d="M653.5,36 L655.2,36.4 L663.5,77.4 L662,77.6 Z" fill="#d8d8d8"/><path d="M658,51 L661.5,50.5 L678.2,70.5 L674.5,75 Z" fill="#8c8c8c"/><path d="M658,51 L661.5,50.5 L670,60.5 L666,62.5 Z" fill="#d40000"/><path d="M632,58.3 L637.2,58.8 L644,94.5 L641.8,95 Z" fill="#a2a2a2"/><path d="M636.2,75.8 L640,75.6 L644,94.5 L641.8,95 Z" fill="#d00000"/><path d="M648.2,35.2 L654.4,36.4 L652,62 L644.3,96 L642.3,95.6 L645.6,61.5 Z" fill="#dedede" stroke="#9a9a9a" stroke-width="0.5"/><path d="M646.6,70 L651,70.5 L644.3,96 L642.3,95.6 Z" fill="#ee0000"/><path d="M659.5,57 L664,55.5 L669.5,62.5 L666.5,64 Z" fill="#cc0000"/><path d="M661,76 C658,82 663,86.5 669,85.5 C674,84.5 676.5,80 675.5,76" stroke="#e00000" stroke-width="1" fill="none"/><path d="M662,74.5 L668,74.5 L667.5,79.5 L662.5,79.5 Z" fill="#ee0000"/><path d="M620,63.5 L624,61.8 L624.5,64.8 Z" fill="#d00000"/><path d="M641.3,95.5 C640.5,98.5 642,100.5 644.4,102.5 C643.5,105 641,106 640,107.5" stroke="#d00000" stroke-width="1.1" fill="none"/><path d="M640,107.5 C639.5,111 640.5,114 641.1,115 C642.5,118 644,120 645.5,121.2" stroke="#999" stroke-width="1.1" fill="none"/></g>
<line x1="648.4" y1="65.4" x2="658.8" y2="44.6" stroke="#222" stroke-width="0.9"/>
<text x="657" y="44.6" fill="#111">H68</text>
<line x1="626.4" y1="86" x2="636.2" y2="78.3" stroke="#222" stroke-width="0.9"/>
<text x="613.2" y="93.1" fill="#111">R42</text>
<line x1="631.3" y1="100.4" x2="641.1" y2="100.4" stroke="#222" stroke-width="0.9"/>
<text x="611" y="104.6" fill="#111">R72</text>
<line x1="645" y1="91.4" x2="663" y2="95.3" stroke="#222" stroke-width="0.9"/>
<text x="655.4" y="102.9" fill="#111">L71</text>
<line x1="645" y1="106.2" x2="663" y2="110" stroke="#222" stroke-width="0.9"/>
<text x="651" y="117.7" fill="#111">L73</text>
<line x1="629.6" y1="113.3" x2="639.5" y2="113.3" stroke="#222" stroke-width="0.9"/>
<text x="612.1" y="117.7" fill="#111">R74</text>
<line x1="629.1" y1="253.1" x2="640" y2="253.1" stroke="#222" stroke-width="0.9"/>
<text x="608.8" y="257.4" fill="#111">R72</text>
<line x1="642.8" y1="244.6" x2="660.3" y2="248.7" stroke="#222" stroke-width="0.9"/>
<text x="654.3" y="256.9" fill="#111">L71</text>
<line x1="644.4" y1="258.5" x2="660.8" y2="261.8" stroke="#222" stroke-width="0.9"/>
<text x="651" y="270.6" fill="#111">L73</text>
<text x="388.8" y="336.2" font-size="15.5" font-weight="bold">F</text>
<text x="451.7" y="338.6" fill="#111">Cytosolic</text>
<rect x="495.6" y="330" width="19.2" height="10.6" fill="#22e86c" stroke="#333" stroke-width="0.8"/>
<rect x="514.8" y="330" width="18.9" height="10.6" fill="#5a38e8" stroke="#333" stroke-width="0.8"/>
<text x="497" y="338.6" fill="#0b2a12">NG</text>
<text x="516" y="338.6" fill="#fff">AID</text>
<text x="541" y="338.2" font-style="italic" fill="#222" textLength="103.5" lengthAdjust="spacingAndGlyphs">pep4&#916; pup1<tspan font-size="7" dy="-3.3">T30A</tspan><tspan dy="3.3"> pre3</tspan><tspan font-size="7" dy="-3.3">T20A</tspan></text>
<line x1="453" y1="343.5" x2="628.9" y2="343.5" stroke="#3a3a3a" stroke-width="1"/>
<text x="475.6" y="365.1" text-anchor="middle" fill="#222" font-style="italic">DDI1</text>
<text x="516.6" y="365.1" text-anchor="middle" fill="#222" font-style="italic">ddi1&#916;</text>
<line x1="453" y1="369.5" x2="493.5" y2="369.5" stroke="#3a3a3a" stroke-width="1"/>
<line x1="495.6" y1="369.5" x2="537.1" y2="369.5" stroke="#3a3a3a" stroke-width="1"/>
<text x="609" y="353.2" text-anchor="middle" fill="#222" font-style="italic">ddi1&#916;</text>
<line x1="587.6" y1="356.5" x2="628.9" y2="356.5" stroke="#3a3a3a" stroke-width="1"/>
<text x="616.8" y="367" text-anchor="middle" fill="#111">-ATP</text>
<line x1="606" y1="370.5" x2="627.8" y2="370.5" stroke="#3a3a3a" stroke-width="1"/>
<text x="450.4" y="379" text-anchor="end" fill="#111">Cu<tspan font-size="6" dy="-3.6">2+</tspan><tspan dy="3.6">+Aux</tspan></text>
<text x="450.4" y="388.8" text-anchor="end" fill="#111">MG132</text>
<text x="469.3" y="379.8" text-anchor="middle" fill="#111">+</text>
<text x="491.7" y="379.8" text-anchor="middle" fill="#111">+</text>
<text x="514" y="379.8" text-anchor="middle" fill="#111">+</text>
<text x="533.7" y="379.8" text-anchor="middle" fill="#111">+</text>
<text x="601.4" y="379.8" text-anchor="middle" fill="#111">+</text>
<text x="622.6" y="379.8" text-anchor="middle" fill="#111">+</text>
<text x="479.3" y="388.9" text-anchor="middle" fill="#111">+</text>
<text x="491.7" y="388.9" text-anchor="middle" fill="#111">+</text>
<text x="523.2" y="388.9" text-anchor="middle" fill="#111">+</text>
<text x="533.7" y="388.9" text-anchor="middle" fill="#111">+</text>
<text x="591.9" y="388.9" text-anchor="middle" fill="#111">+</text>
<text x="601.4" y="388.9" text-anchor="middle" fill="#111">+</text>
<text x="612.6" y="388.9" text-anchor="middle" fill="#111">+</text>
<text x="622.6" y="388.9" text-anchor="middle" fill="#111">+</text>
<line x1="405.7" y1="393.5" x2="628.9" y2="393.5" stroke="#333" stroke-width="1"/>
<text x="406.5" y="403.8" fill="#111">MW (kDa)</text>
<rect x="452.6" y="402" width="86.4" height="119.6" fill="#f2f2f2" stroke="#333" stroke-width="1"/>
<ellipse cx="475" cy="465" rx="8" ry="10" fill="#fafafa" filter="url(#b2)"/><ellipse cx="510" cy="505" rx="10" ry="8" fill="#fafafa" filter="url(#b2)"/>
<g filter="url(#b3)">
<rect x="454.9" y="468.2" width="9.2" height="6" fill="#000" opacity="1"/>
<rect x="465.4" y="469.95" width="9.2" height="2.5" fill="#000" opacity="0.22"/>
<rect x="475.4" y="468.2" width="9.2" height="6" fill="#000" opacity="1"/>
<rect x="485.4" y="468.95" width="9.2" height="4.5" fill="#000" opacity="0.9"/>
<rect x="495.9" y="468.2" width="9.2" height="6" fill="#000" opacity="1"/>
<rect x="506.4" y="469.95" width="9.2" height="2.5" fill="#000" opacity="0.22"/>
<rect x="516.9" y="468.2" width="9.2" height="6" fill="#000" opacity="1"/>
<rect x="526.9" y="468.95" width="9.2" height="4.5" fill="#000" opacity="0.95"/>
<rect x="465.8" y="487.6" width="8.4" height="1.5" fill="#000" opacity="0.4"/>
<rect x="465.8" y="489.8" width="8.4" height="1.2" fill="#000" opacity="0.27999999999999997"/>
<rect x="485.8" y="487.6" width="8.4" height="1.5" fill="#000" opacity="0.8"/>
<rect x="485.8" y="489.8" width="8.4" height="1.2" fill="#000" opacity="0.5599999999999999"/>
<rect x="455" y="406.5" width="9" height="3" fill="#000" opacity="0.1"/>
<rect x="496" y="406.5" width="9" height="3" fill="#000" opacity="0.1"/>
<rect x="527.5" y="441.5" width="8" height="1.3" fill="#000" opacity="0.12"/>
<rect x="527.5" y="445" width="8" height="1.3" fill="#000" opacity="0.12"/>
<rect x="527.5" y="449" width="8" height="1.3" fill="#000" opacity="0.12"/>
<rect x="527.5" y="453.5" width="8" height="1.3" fill="#000" opacity="0.12"/>
<rect x="527.5" y="457" width="8" height="1.3" fill="#000" opacity="0.12"/>
</g>
<circle cx="467" cy="415" r="0.7" fill="#222"/>
<circle cx="477" cy="481" r="0.7" fill="#222"/>
<circle cx="494" cy="488" r="0.6" fill="#222"/>
<text x="447.9" y="413.1" text-anchor="end" fill="#111">250</text>
<line x1="448.4" y1="409.5" x2="452.6" y2="409.5" stroke="#333" stroke-width="1"/>
<text x="447.9" y="424.8" text-anchor="end" fill="#111">140</text>
<line x1="448.4" y1="421.2" x2="452.6" y2="421.2" stroke="#333" stroke-width="1"/>
<text x="447.9" y="435.3" text-anchor="end" fill="#111">100</text>
<line x1="448.4" y1="431.7" x2="452.6" y2="431.7" stroke="#333" stroke-width="1"/>
<text x="447.9" y="445.1" text-anchor="end" fill="#111">70</text>
<line x1="448.4" y1="441.5" x2="452.6" y2="441.5" stroke="#333" stroke-width="1"/>
<text x="447.9" y="457" text-anchor="end" fill="#111">50</text>
<line x1="448.4" y1="453.4" x2="452.6" y2="453.4" stroke="#333" stroke-width="1"/>
<text x="447.9" y="469.9" text-anchor="end" fill="#111">40</text>
<line x1="448.4" y1="466.3" x2="452.6" y2="466.3" stroke="#333" stroke-width="1"/>
<text x="447.9" y="479.7" text-anchor="end" fill="#111">35</text>
<line x1="448.4" y1="476.1" x2="452.6" y2="476.1" stroke="#333" stroke-width="1"/>
<text x="447.9" y="490.2" text-anchor="end" fill="#111">25</text>
<line x1="448.4" y1="486.6" x2="452.6" y2="486.6" stroke="#333" stroke-width="1"/>
<text x="447.9" y="509.4" text-anchor="end" fill="#111">15</text>
<line x1="448.4" y1="505.8" x2="452.6" y2="505.8" stroke="#333" stroke-width="1"/>
<text x="429.2" y="460.3" text-anchor="middle" fill="#3a8c3a" font-weight="bold" transform="rotate(-90 429.2 460.3)">&#945;-NG</text>
<rect x="585.2" y="402.3" width="44.5" height="118.6" fill="#f3f3f3" stroke="#333" stroke-width="1"/>
<line x1="581.2" y1="408.7" x2="585.2" y2="408.7" stroke="#333" stroke-width="1"/>
<line x1="581.2" y1="421.5" x2="585.2" y2="421.5" stroke="#333" stroke-width="1"/>
<line x1="581.2" y1="431.5" x2="585.2" y2="431.5" stroke="#333" stroke-width="1"/>
<line x1="581.2" y1="441.5" x2="585.2" y2="441.5" stroke="#333" stroke-width="1"/>
<line x1="581.2" y1="453.4" x2="585.2" y2="453.4" stroke="#333" stroke-width="1"/>
<line x1="581.2" y1="466.2" x2="585.2" y2="466.2" stroke="#333" stroke-width="1"/>
<line x1="581.2" y1="477.7" x2="585.2" y2="477.7" stroke="#333" stroke-width="1"/>
<line x1="581.2" y1="486.2" x2="585.2" y2="486.2" stroke="#333" stroke-width="1"/>
<line x1="581.2" y1="505.4" x2="585.2" y2="505.4" stroke="#333" stroke-width="1"/>
<g filter="url(#b3)">
<rect x="587" y="467.05" width="9.6" height="5.5" fill="#000"/>
<rect x="596.9" y="467.55" width="9.6" height="4.5" fill="#000"/>
<rect x="607.2" y="467.05" width="9.6" height="5.5" fill="#000"/>
<rect x="617.5" y="467.8" width="9.6" height="4" fill="#000"/>
<rect x="597.2" y="410" width="9" height="55" fill="#000" opacity="0.05"/>
<rect x="597.7" y="420" width="8" height="2" fill="#000" opacity="0.05"/>
<rect x="597.7" y="428" width="8" height="2" fill="#000" opacity="0.07"/>
<rect x="597.7" y="433" width="8" height="2" fill="#000" opacity="0.1"/>
<rect x="597.7" y="438" width="8" height="2" fill="#000" opacity="0.12"/>
<rect x="597.7" y="443" width="8" height="2" fill="#000" opacity="0.14"/>
<rect x="597.7" y="448" width="8" height="2" fill="#000" opacity="0.12"/>
<rect x="597.7" y="453" width="8" height="2" fill="#000" opacity="0.12"/>
<rect x="597.7" y="459" width="8" height="2" fill="#000" opacity="0.1"/>
<rect x="617.8" y="425" width="9" height="40" fill="#000" opacity="0.05"/>
<rect x="618.1" y="431.5" width="8.4" height="2" fill="#000" opacity="0.35"/>
<rect x="618.1" y="436.5" width="8.4" height="2" fill="#000" opacity="0.45"/>
<rect x="618.1" y="440.5" width="8.4" height="2" fill="#000" opacity="0.4"/>
<rect x="618.1" y="445" width="8.4" height="2" fill="#000" opacity="0.25"/>
<rect x="618.1" y="450" width="8.4" height="2" fill="#000" opacity="0.2"/>
<rect x="618.1" y="455" width="8.4" height="2" fill="#000" opacity="0.18"/>
<rect x="618.1" y="460" width="8.4" height="2" fill="#000" opacity="0.22"/>
<rect x="608" y="455" width="8" height="3" fill="#000" opacity="0.05"/>
</g>
<path d="M630.3,407.4 H636.3 V464 H630.3" fill="none" stroke="#444" stroke-width="1"/>
<line x1="636.3" y1="432.4" x2="643.4" y2="432.4" stroke="#444" stroke-width="1"/>
<text x="644" y="436" fill="#111">High MW</text>
<path d="M630.8,469.5 L636.4,467.7 L636.4,471.3 Z" fill="#111"/>
<line x1="635.5" y1="469.5" x2="638" y2="469.5" stroke="#111" stroke-width="1"/>
<text x="638.5" y="473.1" fill="#111">Full-length</text>
<path d="M630.8,487.2 L636.4,485.4 L636.4,489 Z" fill="#111"/>
<line x1="635.5" y1="487.2" x2="638.3" y2="487.2" stroke="#111" stroke-width="1"/>
<text x="638.8" y="490.8" fill="#111">Ddi1-Clip</text>
<line x1="453.4" y1="527.5" x2="453.4" y2="574.7" stroke="#222" stroke-width="1"/>
<line x1="453.4" y1="574.7" x2="538.1" y2="574.7" stroke="#333" stroke-width="1.1"/>
<line x1="449.6" y1="574.7" x2="453.4" y2="574.7" stroke="#222" stroke-width="1"/>
<text x="449.2" y="578.3" text-anchor="end" fill="#111">0</text>
<line x1="449.6" y1="551.75" x2="453.4" y2="551.75" stroke="#222" stroke-width="1"/>
<text x="449.2" y="555.35" text-anchor="end" fill="#111">50</text>
<line x1="449.6" y1="528.8" x2="453.4" y2="528.8" stroke="#222" stroke-width="1"/>
<text x="449.2" y="532.4" text-anchor="end" fill="#111">100</text>
<rect x="456.4" y="528.8" width="6.2" height="45.9" fill="#e6e6e6" stroke="#111" stroke-width="1"/>
<rect x="466.9" y="571.03" width="6.2" height="3.67" fill="#e6e6e6" stroke="#111" stroke-width="1"/>
<rect x="477.3" y="528.8" width="6.2" height="45.9" fill="#e6e6e6" stroke="#111" stroke-width="1"/>
<rect x="487.3" y="563.68" width="6.2" height="11.02" fill="#e6e6e6" stroke="#111" stroke-width="1"/>
<rect x="497.6" y="528.8" width="6.2" height="45.9" fill="#e6e6e6" stroke="#111" stroke-width="1"/>
<rect x="507.9" y="566.44" width="6.2" height="8.26" fill="#e6e6e6" stroke="#111" stroke-width="1"/>
<rect x="518.3" y="528.8" width="6.2" height="45.9" fill="#e6e6e6" stroke="#111" stroke-width="1"/>
<rect x="528.4" y="557.72" width="6.2" height="16.98" fill="#e6e6e6" stroke="#111" stroke-width="1"/>
<line x1="459.5" y1="528.57" x2="459.5" y2="529.03" stroke="#222" stroke-width="1"/>
<line x1="457.7" y1="528.57" x2="461.3" y2="528.57" stroke="#222" stroke-width="1"/>
<circle cx="459.5" cy="528.8" r="1.7" fill="#2a2a2a" opacity="0.85"/>
<circle cx="459.5" cy="528.8" r="1.7" fill="#2a2a2a" opacity="0.85"/>
<line x1="470" y1="570.11" x2="470" y2="571.95" stroke="#222" stroke-width="1"/>
<line x1="468.2" y1="570.11" x2="471.8" y2="570.11" stroke="#222" stroke-width="1"/>
<circle cx="470" cy="571.95" r="1.7" fill="#2a2a2a" opacity="0.85"/>
<circle cx="470" cy="570.57" r="1.7" fill="#2a2a2a" opacity="0.85"/>
<line x1="480.4" y1="528.57" x2="480.4" y2="529.03" stroke="#222" stroke-width="1"/>
<line x1="478.6" y1="528.57" x2="482.2" y2="528.57" stroke="#222" stroke-width="1"/>
<circle cx="480.4" cy="528.8" r="1.7" fill="#2a2a2a" opacity="0.85"/>
<line x1="490.4" y1="559.55" x2="490.4" y2="567.82" stroke="#222" stroke-width="1"/>
<line x1="488.6" y1="559.55" x2="492.2" y2="559.55" stroke="#222" stroke-width="1"/>
<circle cx="490.4" cy="567.36" r="1.7" fill="#2a2a2a" opacity="0.85"/>
<circle cx="490.4" cy="563.68" r="1.7" fill="#2a2a2a" opacity="0.85"/>
<circle cx="490.4" cy="558.63" r="1.7" fill="#2a2a2a" opacity="0.85"/>
<line x1="500.7" y1="528.57" x2="500.7" y2="529.03" stroke="#222" stroke-width="1"/>
<line x1="498.9" y1="528.57" x2="502.5" y2="528.57" stroke="#222" stroke-width="1"/>
<circle cx="500.7" cy="528.8" r="1.7" fill="#2a2a2a" opacity="0.85"/>
<line x1="511" y1="562.77" x2="511" y2="570.11" stroke="#222" stroke-width="1"/>
<line x1="509.2" y1="562.77" x2="512.8" y2="562.77" stroke="#222" stroke-width="1"/>
<circle cx="511" cy="570.11" r="1.7" fill="#2a2a2a" opacity="0.85"/>
<circle cx="511" cy="566.9" r="1.7" fill="#2a2a2a" opacity="0.85"/>
<circle cx="511" cy="562.31" r="1.7" fill="#2a2a2a" opacity="0.85"/>
<line x1="521.4" y1="528.57" x2="521.4" y2="529.03" stroke="#222" stroke-width="1"/>
<line x1="519.6" y1="528.57" x2="523.2" y2="528.57" stroke="#222" stroke-width="1"/>
<circle cx="521.4" cy="528.8" r="1.7" fill="#2a2a2a" opacity="0.85"/>
<line x1="531.5" y1="553.13" x2="531.5" y2="562.31" stroke="#222" stroke-width="1"/>
<line x1="529.7" y1="553.13" x2="533.3" y2="553.13" stroke="#222" stroke-width="1"/>
<circle cx="531.5" cy="560.93" r="1.7" fill="#2a2a2a" opacity="0.85"/>
<circle cx="531.5" cy="557.72" r="1.7" fill="#2a2a2a" opacity="0.85"/>
<circle cx="531.5" cy="552.67" r="1.7" fill="#2a2a2a" opacity="0.85"/>
<text x="428" y="550.6" text-anchor="middle" fill="#222" transform="rotate(-90 428 550.6)">Full-length</text>
<line x1="458.6" y1="578.6" x2="469.1" y2="578.6" stroke="#222" stroke-width="1.1"/>
<circle cx="458.6" cy="578.6" r="1.4" fill="#222"/>
<circle cx="469.1" cy="578.6" r="1.4" fill="#222"/>
<text x="463.85" y="589.38" text-anchor="middle"><tspan font-size="16.5" dy="4.7" stroke="#000" stroke-width="0.35">*</tspan><tspan dy="-4.7">1</tspan></text>
<line x1="480" y1="578.6" x2="491.5" y2="578.6" stroke="#222" stroke-width="1.1"/>
<circle cx="480" cy="578.6" r="1.4" fill="#222"/>
<circle cx="491.5" cy="578.6" r="1.4" fill="#222"/>
<text x="485.75" y="589.38" text-anchor="middle"><tspan font-size="16.5" dy="4.7" stroke="#000" stroke-width="0.35">*</tspan><tspan dy="-4.7">2</tspan></text>
<line x1="499.8" y1="578.6" x2="511.2" y2="578.6" stroke="#222" stroke-width="1.1"/>
<circle cx="499.8" cy="578.6" r="1.4" fill="#222"/>
<circle cx="511.2" cy="578.6" r="1.4" fill="#222"/>
<text x="505.5" y="589.38" text-anchor="middle"><tspan font-size="16.5" dy="4.7" stroke="#000" stroke-width="0.35">*</tspan><tspan dy="-4.7">3</tspan></text>
<line x1="521.2" y1="578.6" x2="532.2" y2="578.6" stroke="#222" stroke-width="1.1"/>
<circle cx="521.2" cy="578.6" r="1.4" fill="#222"/>
<circle cx="532.2" cy="578.6" r="1.4" fill="#222"/>
<text x="526.7" y="589.38" text-anchor="middle"><tspan font-size="16.5" dy="4.7" stroke="#000" stroke-width="0.35">*</tspan><tspan dy="-4.7">4</tspan></text>
<line x1="491" y1="593.5" x2="532.2" y2="593.5" stroke="#222" stroke-width="1.1"/>
<circle cx="491" cy="593.5" r="1.4" fill="#222"/>
<circle cx="532.2" cy="593.5" r="1.4" fill="#222"/>
<text x="511.8" y="602.48" text-anchor="middle"><tspan font-size="16.5" dy="4.7" stroke="#000" stroke-width="0.35">*</tspan><tspan dy="-4.7">5</tspan></text>
<line x1="586" y1="527.8" x2="586" y2="575" stroke="#222" stroke-width="1"/>
<line x1="586" y1="575" x2="629.4" y2="575" stroke="#333" stroke-width="1.1"/>
<line x1="582.2" y1="575" x2="586" y2="575" stroke="#222" stroke-width="1"/>
<text x="581.8" y="578.6" text-anchor="end" fill="#111">0</text>
<line x1="582.2" y1="559.5" x2="586" y2="559.5" stroke="#222" stroke-width="1"/>
<text x="581.8" y="563.1" text-anchor="end" fill="#111">50</text>
<line x1="582.2" y1="544" x2="586" y2="544" stroke="#222" stroke-width="1"/>
<text x="581.8" y="547.6" text-anchor="end" fill="#111">100</text>
<line x1="582.2" y1="528.5" x2="586" y2="528.5" stroke="#222" stroke-width="1"/>
<text x="581.8" y="532.1" text-anchor="end" fill="#111">150</text>
<rect x="589.15" y="546.48" width="6.3" height="28.52" fill="#e6e6e6" stroke="#111" stroke-width="1"/>
<rect x="599.55" y="554.54" width="6.3" height="20.46" fill="#e6e6e6" stroke="#111" stroke-width="1"/>
<rect x="609.85" y="544.62" width="6.3" height="30.38" fill="#e6e6e6" stroke="#111" stroke-width="1"/>
<rect x="620.15" y="552.68" width="6.3" height="22.32" fill="#e6e6e6" stroke="#111" stroke-width="1"/>
<line x1="592.3" y1="544" x2="592.3" y2="548.96" stroke="#222" stroke-width="1"/>
<line x1="590.5" y1="544" x2="594.1" y2="544" stroke="#222" stroke-width="1"/>
<circle cx="592.3" cy="548.65" r="1.7" fill="#777" opacity="0.85"/>
<circle cx="592.3" cy="545.55" r="1.7" fill="#777" opacity="0.85"/>
<circle cx="592.3" cy="544" r="1.7" fill="#777" opacity="0.85"/>
<line x1="602.7" y1="549.27" x2="602.7" y2="559.81" stroke="#222" stroke-width="1"/>
<line x1="600.9" y1="549.27" x2="604.5" y2="549.27" stroke="#222" stroke-width="1"/>
<circle cx="602.7" cy="560.12" r="1.7" fill="#777" opacity="0.85"/>
<circle cx="602.7" cy="554.54" r="1.7" fill="#777" opacity="0.85"/>
<circle cx="602.7" cy="546.48" r="1.7" fill="#777" opacity="0.85"/>
<line x1="613" y1="543.69" x2="613" y2="545.55" stroke="#222" stroke-width="1"/>
<line x1="611.2" y1="543.69" x2="614.8" y2="543.69" stroke="#222" stroke-width="1"/>
<circle cx="613" cy="545.55" r="1.7" fill="#777" opacity="0.85"/>
<circle cx="613" cy="544.62" r="1.7" fill="#777" opacity="0.85"/>
<circle cx="613" cy="544" r="1.7" fill="#777" opacity="0.85"/>
<line x1="623.3" y1="544.31" x2="623.3" y2="561.05" stroke="#222" stroke-width="1"/>
<line x1="621.5" y1="544.31" x2="625.1" y2="544.31" stroke="#222" stroke-width="1"/>
<circle cx="623.3" cy="561.05" r="1.7" fill="#777" opacity="0.85"/>
<circle cx="623.3" cy="553.3" r="1.7" fill="#777" opacity="0.85"/>
<circle cx="623.3" cy="542.45" r="1.7" fill="#777" opacity="0.85"/>
<text x="563.4" y="554.6" text-anchor="middle" fill="#222" transform="rotate(-90 563.4 554.6)">Full-length</text>
<line x1="594" y1="578.5" x2="602.4" y2="578.5" stroke="#222" stroke-width="1.1"/>
<circle cx="594" cy="578.5" r="1.4" fill="#222"/>
<circle cx="602.4" cy="578.5" r="1.4" fill="#222"/>
<text x="595.8" y="589.18" text-anchor="middle">ns11</text>
<line x1="613.8" y1="578.5" x2="622.7" y2="578.5" stroke="#222" stroke-width="1.1"/>
<circle cx="613.8" cy="578.5" r="1.4" fill="#222"/>
<circle cx="622.7" cy="578.5" r="1.4" fill="#222"/>
<text x="622.1" y="589.18" text-anchor="middle">ns12</text>
<line x1="453.4" y1="601.5" x2="453.4" y2="648.6" stroke="#222" stroke-width="1"/>
<line x1="453.4" y1="648.6" x2="538.1" y2="648.6" stroke="#333" stroke-width="1.1"/>
<line x1="449.6" y1="648.6" x2="453.4" y2="648.6" stroke="#222" stroke-width="1"/>
<text x="449.2" y="652.2" text-anchor="end" fill="#111">0</text>
<line x1="449.6" y1="639.32" x2="453.4" y2="639.32" stroke="#222" stroke-width="1"/>
<text x="449.2" y="642.92" text-anchor="end" fill="#111">5</text>
<line x1="449.6" y1="630.04" x2="453.4" y2="630.04" stroke="#222" stroke-width="1"/>
<text x="449.2" y="633.64" text-anchor="end" fill="#111">10</text>
<line x1="449.6" y1="620.76" x2="453.4" y2="620.76" stroke="#222" stroke-width="1"/>
<text x="449.2" y="624.36" text-anchor="end" fill="#111">15</text>
<line x1="449.6" y1="611.48" x2="453.4" y2="611.48" stroke="#222" stroke-width="1"/>
<text x="449.2" y="615.08" text-anchor="end" fill="#111">20</text>
<line x1="449.6" y1="602.2" x2="453.4" y2="602.2" stroke="#222" stroke-width="1"/>
<text x="449.2" y="605.8" text-anchor="end" fill="#111">25</text>
<rect x="456.4" y="647.86" width="6.2" height="0.74" fill="#e6e6e6" stroke="#111" stroke-width="1"/>
<rect x="466.9" y="644.89" width="6.2" height="3.71" fill="#e6e6e6" stroke="#111" stroke-width="1"/>
<rect x="477.3" y="647.86" width="6.2" height="0.74" fill="#e6e6e6" stroke="#111" stroke-width="1"/>
<rect x="487.3" y="624.47" width="6.2" height="24.13" fill="#e6e6e6" stroke="#111" stroke-width="1"/>
<rect x="497.6" y="647.86" width="6.2" height="0.74" fill="#e6e6e6" stroke="#111" stroke-width="1"/>
<rect x="507.9" y="647.86" width="6.2" height="0.74" fill="#e6e6e6" stroke="#111" stroke-width="1"/>
<rect x="518.3" y="647.86" width="6.2" height="0.74" fill="#e6e6e6" stroke="#111" stroke-width="1"/>
<rect x="528.4" y="648.04" width="6.2" height="0.56" fill="#e6e6e6" stroke="#111" stroke-width="1"/>
<circle cx="459.5" cy="648.04" r="1.7" fill="#333" opacity="0.85"/>
<line x1="470" y1="640.25" x2="470" y2="648.6" stroke="#222" stroke-width="1"/>
<line x1="468.2" y1="640.25" x2="471.8" y2="640.25" stroke="#222" stroke-width="1"/>
<circle cx="470" cy="647.67" r="1.7" fill="#333" opacity="0.85"/>
<circle cx="470" cy="645.82" r="1.7" fill="#333" opacity="0.85"/>
<circle cx="470" cy="640.25" r="1.7" fill="#333" opacity="0.85"/>
<circle cx="480.4" cy="648.04" r="1.7" fill="#333" opacity="0.85"/>
<line x1="490.4" y1="609.62" x2="490.4" y2="639.32" stroke="#222" stroke-width="1"/>
<line x1="488.6" y1="609.62" x2="492.2" y2="609.62" stroke="#222" stroke-width="1"/>
<circle cx="490.4" cy="638.39" r="1.7" fill="#333" opacity="0.85"/>
<circle cx="490.4" cy="624.47" r="1.7" fill="#333" opacity="0.85"/>
<circle cx="490.4" cy="610.55" r="1.7" fill="#333" opacity="0.85"/>
<circle cx="500.7" cy="647.67" r="1.7" fill="#333" opacity="0.85"/>
<circle cx="511" cy="648.04" r="1.7" fill="#333" opacity="0.85"/>
<circle cx="521.4" cy="648.23" r="1.7" fill="#333" opacity="0.85"/>
<circle cx="531.5" cy="648.23" r="1.7" fill="#333" opacity="0.85"/>
<ellipse cx="459.5" cy="647.8" rx="2.9" ry="1.7" fill="#2a2a2a"/>
<ellipse cx="480.4" cy="647.8" rx="2.9" ry="1.7" fill="#2a2a2a"/>
<ellipse cx="500.7" cy="647.8" rx="2.9" ry="1.7" fill="#2a2a2a"/>
<ellipse cx="511" cy="647.8" rx="2.9" ry="1.7" fill="#2a2a2a"/>
<ellipse cx="521.4" cy="647.8" rx="2.9" ry="1.7" fill="#2a2a2a"/>
<ellipse cx="531.5" cy="647.8" rx="2.9" ry="1.7" fill="#2a2a2a"/>
<text x="428" y="628" text-anchor="middle" fill="#222" transform="rotate(-90 428 628)">Ddi1-Clip-NG</text>
<line x1="458.2" y1="653.3" x2="469.6" y2="653.3" stroke="#222" stroke-width="1.1"/>
<circle cx="458.2" cy="653.3" r="1.4" fill="#222"/>
<circle cx="469.6" cy="653.3" r="1.4" fill="#222"/>
<text x="463.9" y="663.88" text-anchor="middle">ns6</text>
<line x1="480" y1="653.3" x2="491.5" y2="653.3" stroke="#222" stroke-width="1.1"/>
<circle cx="480" cy="653.3" r="1.4" fill="#222"/>
<circle cx="491.5" cy="653.3" r="1.4" fill="#222"/>
<text x="485.75" y="663.88" text-anchor="middle"><tspan font-size="16.5" dy="4.7" stroke="#000" stroke-width="0.35">*</tspan><tspan dy="-4.7">7</tspan></text>
<line x1="499.8" y1="653.3" x2="511.2" y2="653.3" stroke="#222" stroke-width="1.1"/>
<circle cx="499.8" cy="653.3" r="1.4" fill="#222"/>
<circle cx="511.2" cy="653.3" r="1.4" fill="#222"/>
<text x="505.5" y="663.88" text-anchor="middle">ns8</text>
<line x1="521.2" y1="653.3" x2="532.2" y2="653.3" stroke="#222" stroke-width="1.1"/>
<circle cx="521.2" cy="653.3" r="1.4" fill="#222"/>
<circle cx="532.2" cy="653.3" r="1.4" fill="#222"/>
<text x="526.7" y="663.88" text-anchor="middle">ns9</text>
<line x1="491.5" y1="668.4" x2="532.2" y2="668.4" stroke="#222" stroke-width="1.1"/>
<circle cx="491.5" cy="668.4" r="1.4" fill="#222"/>
<circle cx="532.2" cy="668.4" r="1.4" fill="#222"/>
<text x="511.8" y="678.08" text-anchor="middle"><tspan font-size="16.5" dy="4.7" stroke="#000" stroke-width="0.35">*</tspan><tspan dy="-4.7">10</tspan></text>
<line x1="586" y1="602" x2="586" y2="648.7" stroke="#222" stroke-width="1"/>
<line x1="586" y1="648.7" x2="630" y2="648.7" stroke="#333" stroke-width="1.1"/>
<line x1="582.2" y1="648.7" x2="586" y2="648.7" stroke="#222" stroke-width="1"/>
<text x="581.8" y="652.3" text-anchor="end" fill="#111">0</text>
<line x1="582.2" y1="639.56" x2="586" y2="639.56" stroke="#222" stroke-width="1"/>
<text x="581.8" y="643.16" text-anchor="end" fill="#111">20</text>
<line x1="582.2" y1="630.42" x2="586" y2="630.42" stroke="#222" stroke-width="1"/>
<text x="581.8" y="634.02" text-anchor="end" fill="#111">40</text>
<line x1="582.2" y1="621.28" x2="586" y2="621.28" stroke="#222" stroke-width="1"/>
<text x="581.8" y="624.88" text-anchor="end" fill="#111">60</text>
<line x1="582.2" y1="612.14" x2="586" y2="612.14" stroke="#222" stroke-width="1"/>
<text x="581.8" y="615.74" text-anchor="end" fill="#111">80</text>
<line x1="582.2" y1="603" x2="586" y2="603" stroke="#222" stroke-width="1"/>
<text x="581.8" y="606.6" text-anchor="end" fill="#111">100</text>
<rect x="589.15" y="645.5" width="6.3" height="3.2" fill="#e6e6e6" stroke="#111" stroke-width="1"/>
<rect x="599.55" y="627.68" width="6.3" height="21.02" fill="#e6e6e6" stroke="#111" stroke-width="1"/>
<rect x="609.85" y="647.33" width="6.3" height="1.37" fill="#e6e6e6" stroke="#111" stroke-width="1"/>
<rect x="620.15" y="634.99" width="6.3" height="13.71" fill="#e6e6e6" stroke="#111" stroke-width="1"/>
<line x1="592.3" y1="641.85" x2="592.3" y2="648.7" stroke="#222" stroke-width="1"/>
<line x1="590.5" y1="641.85" x2="594.1" y2="641.85" stroke="#222" stroke-width="1"/>
<circle cx="592.3" cy="648.24" r="1.7" fill="#777" opacity="0.85"/>
<circle cx="592.3" cy="646.42" r="1.7" fill="#777" opacity="0.85"/>
<circle cx="592.3" cy="639.56" r="1.7" fill="#777" opacity="0.85"/>
<line x1="602.7" y1="614.88" x2="602.7" y2="640.47" stroke="#222" stroke-width="1"/>
<line x1="600.9" y1="614.88" x2="604.5" y2="614.88" stroke="#222" stroke-width="1"/>
<circle cx="602.7" cy="637.28" r="1.7" fill="#777" opacity="0.85"/>
<circle cx="602.7" cy="625.85" r="1.7" fill="#777" opacity="0.85"/>
<circle cx="602.7" cy="611.23" r="1.7" fill="#777" opacity="0.85"/>
<line x1="613" y1="645.96" x2="613" y2="648.7" stroke="#222" stroke-width="1"/>
<line x1="611.2" y1="645.96" x2="614.8" y2="645.96" stroke="#222" stroke-width="1"/>
<circle cx="613" cy="648.24" r="1.7" fill="#777" opacity="0.85"/>
<circle cx="613" cy="647.33" r="1.7" fill="#777" opacity="0.85"/>
<circle cx="613" cy="645.96" r="1.7" fill="#777" opacity="0.85"/>
<line x1="623.3" y1="631.33" x2="623.3" y2="638.65" stroke="#222" stroke-width="1"/>
<line x1="621.5" y1="631.33" x2="625.1" y2="631.33" stroke="#222" stroke-width="1"/>
<circle cx="623.3" cy="638.65" r="1.7" fill="#777" opacity="0.85"/>
<circle cx="623.3" cy="634.08" r="1.7" fill="#777" opacity="0.85"/>
<circle cx="623.3" cy="631.33" r="1.7" fill="#777" opacity="0.85"/>
<ellipse cx="592.3" cy="647.1" rx="2.6" ry="1.6" fill="#555"/>
<ellipse cx="613" cy="648.01" rx="2.6" ry="1.6" fill="#555"/>
<text x="563" y="626.8" text-anchor="middle" fill="#222" transform="rotate(-90 563 626.8)">High MW</text>
<line x1="593.9" y1="652.4" x2="602.4" y2="652.4" stroke="#222" stroke-width="1.1"/>
<circle cx="593.9" cy="652.4" r="1.4" fill="#222"/>
<circle cx="602.4" cy="652.4" r="1.4" fill="#222"/>
<text x="594.8" y="663.18" text-anchor="middle"><tspan font-size="16.5" dy="4.7" stroke="#000" stroke-width="0.35">*</tspan><tspan dy="-4.7">13</tspan></text>
<line x1="613.8" y1="652.4" x2="622.7" y2="652.4" stroke="#222" stroke-width="1.1"/>
<circle cx="613.8" cy="652.4" r="1.4" fill="#222"/>
<circle cx="622.7" cy="652.4" r="1.4" fill="#222"/>
<text x="621.4" y="663.18" text-anchor="middle">ns14</text>
</svg></body></html>
